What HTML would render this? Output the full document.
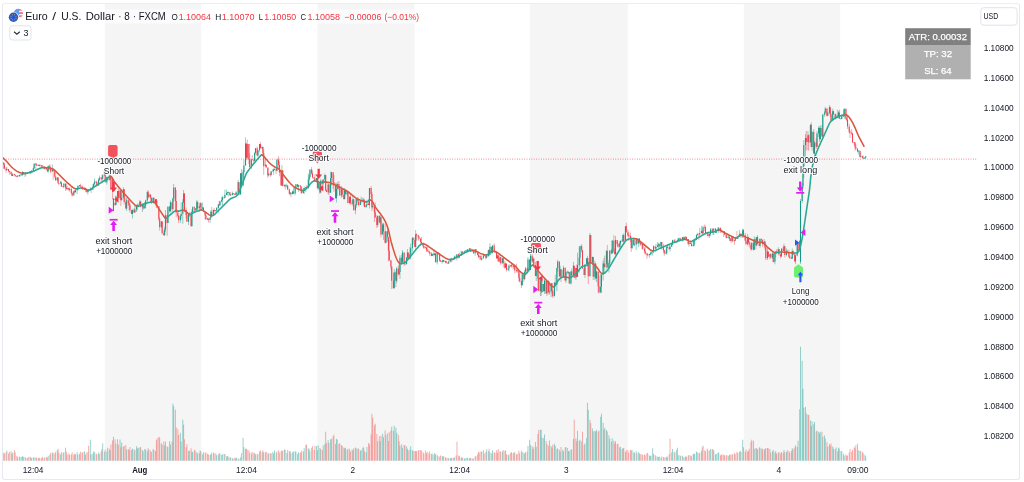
<!DOCTYPE html>
<html lang="en"><head><meta charset="utf-8"><title>Euro / U.S. Dollar chart</title>
<style>
html,body{margin:0;padding:0;background:#fff}
body{width:1024px;height:482px;position:relative;overflow:hidden;font-family:'Liberation Sans',sans-serif}
.frame{position:absolute;left:2px;top:3px;width:1016px;height:475px;border:1px solid #e6e9ef;border-top-color:#eceef3;border-radius:3px;box-sizing:content-box}
svg{display:block}
</style></head><body>
<svg width="1024" height="482" viewBox="0 0 1024 482" style="position:absolute;left:0;top:0">
<rect x="104.8" y="4" width="96.4" height="456.7" fill="#f5f5f5"/>
<rect x="317.5" y="4" width="96.9" height="456.7" fill="#f5f5f5"/>
<rect x="529.9" y="4" width="97.9" height="456.7" fill="#f5f5f5"/>
<rect x="743.8" y="4" width="96.4" height="456.7" fill="#f5f5f5"/>
<path d="M6.43 450.45v10.25h0.95v-10.25zM12.21 452.47v8.23h0.95v-8.23zM17.16 457.37v3.33h0.95v-3.33zM18.82 456.41v4.29h0.95v-4.29zM19.64 457.07v3.63h0.95v-3.63zM22.12 456.11v4.59h0.95v-4.59zM24.6 456.96v3.74h0.95v-3.74zM27.07 458.16v2.54h0.95v-2.54zM29.55 456.8v3.9h0.95v-3.9zM31.2 457.92v2.78h0.95v-2.78zM32.85 457.45v3.25h0.95v-3.25zM33.68 457.23v3.47h0.95v-3.47zM38.63 457.81v2.89h0.95v-2.89zM41.11 457.88v2.82h0.95v-2.82zM44.41 457.18v3.52h0.95v-3.52zM47.72 456.09v4.61h0.95v-4.61zM51.85 452.72v7.98h0.95v-7.98zM56.8 450.09v10.61h0.95v-10.61zM60.11 454.18v6.52h0.95v-6.52zM63.41 452.09v8.61h0.95v-8.61zM66.71 454.72v5.98h0.95v-5.98zM69.19 454.67v6.03h0.95v-6.03zM73.32 454.76v5.94h0.95v-5.94zM74.97 454.28v6.42h0.95v-6.42zM76.62 451.98v8.72h0.95v-8.72zM77.45 454.62v6.08h0.95v-6.08zM79.1 453.72v6.98h0.95v-6.98zM84.05 451.31v9.39h0.95v-9.39zM87.36 452.1v8.6h0.95v-8.6zM89.83 439.7v21h0.95v-21zM92.31 454.08v6.62h0.95v-6.62zM93.14 451.48v9.22h0.95v-9.22zM93.96 452.09v8.61h0.95v-8.61zM98.09 452.38v8.32h0.95v-8.32zM98.92 454.06v6.64h0.95v-6.64zM102.22 443.3v17.4h0.95v-17.4zM103.87 451.79v8.91h0.95v-8.91zM106.35 451.52v9.18h0.95v-9.18zM108.83 448.81v11.89h0.95v-11.89zM109.65 450.41v10.29h0.95v-10.29zM112.96 436.7v24h0.95v-24zM115.43 443.7v17h0.95v-17zM117.09 439.28v21.42h0.95v-21.42zM119.56 439.47v21.23h0.95v-21.23zM121.21 442.56v18.14h0.95v-18.14zM122.87 446.39v14.31h0.95v-14.31zM126.17 449.59v11.11h0.95v-11.11zM131.95 448.51v12.19h0.95v-12.19zM134.43 450.05v10.65h0.95v-10.65zM136.08 446.18v14.52h0.95v-14.52zM137.73 447.85v12.85h0.95v-12.85zM139.38 447.59v13.11h0.95v-13.11zM141.86 450.1v10.6h0.95v-10.6zM144.34 449.03v11.67h0.95v-11.67zM145.16 449.43v11.27h0.95v-11.27zM146.81 451.17v9.53h0.95v-9.53zM148.47 449.62v11.08h0.95v-11.08zM152.59 448.97v11.73h0.95v-11.73zM155.07 451.12v9.58h0.95v-9.58zM160.85 443.14v17.56h0.95v-17.56zM164.16 445.5v15.2h0.95v-15.2zM164.98 441.63v19.07h0.95v-19.07zM167.46 446.91v13.79h0.95v-13.79zM169.94 444.49v16.21h0.95v-16.21zM172.41 403.7v57h0.95v-57zM173.24 406.19v54.51h0.95v-54.51zM179.85 432.81v27.89h0.95v-27.89zM180.67 441.46v19.24h0.95v-19.24zM182.32 419.7v41h0.95v-41zM188.1 450.91v9.79h0.95v-9.79zM191.41 451.64v9.06h0.95v-9.06zM192.23 452.11v8.59h0.95v-8.59zM196.36 452.15v8.55h0.95v-8.55zM198.84 453.15v7.55h0.95v-7.55zM199.67 450.56v10.14h0.95v-10.14zM202.14 454.26v6.44h0.95v-6.44zM207.1 453.86v6.84h0.95v-6.84zM209.57 455.01v5.69h0.95v-5.69zM210.4 454.2v6.5h0.95v-6.5zM212.88 452.56v8.14h0.95v-8.14zM215.36 453.34v7.36h0.95v-7.36zM216.18 455.15v5.55h0.95v-5.55zM217.83 454.81v5.89h0.95v-5.89zM219.48 453.32v7.38h0.95v-7.38zM221.14 454.97v5.73h0.95v-5.73zM221.96 454.23v6.47h0.95v-6.47zM224.44 454.01v6.69h0.95v-6.69zM226.09 456.19v4.51h0.95v-4.51zM226.92 455.86v4.84h0.95v-4.84zM227.74 456.85v3.85h0.95v-3.85zM230.22 457.62v3.08h0.95v-3.08zM231.87 458.26v2.44h0.95v-2.44zM235.17 457.95v2.75h0.95v-2.75zM236 457.86v2.84h0.95v-2.84zM237.65 458.7v2h0.95v-2zM240.13 457.17v3.53h0.95v-3.53zM242.61 437.7v23h0.95v-23zM243.43 447.33v13.37h0.95v-13.37zM245.08 448.69v12.01h0.95v-12.01zM246.74 449.72v10.98h0.95v-10.98zM250.86 453.62v7.08h0.95v-7.08zM254.17 453.13v7.57h0.95v-7.57zM254.99 454.34v6.36h0.95v-6.36zM257.47 453.99v6.71h0.95v-6.71zM259.12 451.24v9.46h0.95v-9.46zM261.6 452.25v8.45h0.95v-8.45zM264.9 452.19v8.51h0.95v-8.51zM268.21 453.27v7.43h0.95v-7.43zM270.68 453.22v7.48h0.95v-7.48zM272.34 452.01v8.69h0.95v-8.69zM273.16 453.49v7.21h0.95v-7.21zM273.99 450.47v10.23h0.95v-10.23zM276.46 451.45v9.25h0.95v-9.25zM281.42 450.57v10.13h0.95v-10.13zM283.9 449.33v11.37h0.95v-11.37zM286.37 452.94v7.76h0.95v-7.76zM289.68 450.89v9.81h0.95v-9.81zM292.15 452.17v8.53h0.95v-8.53zM294.63 451.37v9.33h0.95v-9.33zM295.46 451.58v9.12h0.95v-9.12zM297.94 451.98v8.72h0.95v-8.72zM302.89 451.51v9.19h0.95v-9.19zM303.72 448.2v12.5h0.95v-12.5zM305.37 444.7v16h0.95v-16zM307.85 448.61v12.09h0.95v-12.09zM308.67 448.83v11.87h0.95v-11.87zM309.5 451.31v9.39h0.95v-9.39zM316.1 445.88v14.82h0.95v-14.82zM317.75 445.13v15.57h0.95v-15.57zM320.23 449.12v11.58h0.95v-11.58zM322.71 445.45v15.25h0.95v-15.25zM324.36 444v16.7h0.95v-16.7zM327.66 440.37v20.33h0.95v-20.33zM330.14 439.24v21.46h0.95v-21.46zM330.97 438.72v21.98h0.95v-21.98zM335.92 438.72v21.98h0.95v-21.98zM336.75 439.86v20.84h0.95v-20.84zM340.88 445.08v15.62h0.95v-15.62zM344.18 448.3v12.4h0.95v-12.4zM346.66 449.68v11.02h0.95v-11.02zM349.14 448.66v12.04h0.95v-12.04zM352.44 450.19v10.51h0.95v-10.51zM354.92 447.49v13.21h0.95v-13.21zM355.74 448.61v12.09h0.95v-12.09zM359.87 450.68v10.02h0.95v-10.02zM360.7 450.11v10.59h0.95v-10.59zM362.35 447.76v12.94h0.95v-12.94zM365.65 452.2v8.5h0.95v-8.5zM366.48 446.88v13.82h0.95v-13.82zM368.95 444.45v16.25h0.95v-16.25zM377.21 441.15v19.55h0.95v-19.55zM379.69 441.15v19.55h0.95v-19.55zM382.17 433.81v26.89h0.95v-26.89zM385.47 434.64v26.06h0.95v-26.06zM391.25 426.7v34h0.95v-34zM393.73 425.7v35h0.95v-35zM395.38 427.66v33.04h0.95v-33.04zM396.21 432.68v28.02h0.95v-28.02zM398.68 441.35v19.35h0.95v-19.35zM399.51 445.81v14.89h0.95v-14.89zM401.99 447.67v13.03h0.95v-13.03zM406.12 446.59v14.11h0.95v-14.11zM406.94 448.66v12.04h0.95v-12.04zM409.42 449.59v11.11h0.95v-11.11zM410.24 446.14v14.56h0.95v-14.56zM411.9 450.02v10.68h0.95v-10.68zM415.2 451.11v9.59h0.95v-9.59zM431.72 453.61v7.09h0.95v-7.09zM434.19 453.12v7.58h0.95v-7.58zM436.67 454.72v5.98h0.95v-5.98zM441.62 456.04v4.66h0.95v-4.66zM442.45 456.4v4.3h0.95v-4.3zM444.93 457.27v3.43h0.95v-3.43zM448.23 458.24v2.46h0.95v-2.46zM449.88 457.95v2.75h0.95v-2.75zM450.71 458.02v2.68h0.95v-2.68zM453.19 457.44v3.26h0.95v-3.26zM454.01 457.58v3.12h0.95v-3.12zM458.97 456.35v4.35h0.95v-4.35zM460.62 457.3v3.4h0.95v-3.4zM461.44 457.41v3.29h0.95v-3.29zM463.92 458.47v2.23h0.95v-2.23zM464.75 458.26v2.44h0.95v-2.44zM466.4 457.77v2.93h0.95v-2.93zM467.22 458.12v2.58h0.95v-2.58zM468.88 458.07v2.63h0.95v-2.63zM470.53 458.36v2.34h0.95v-2.34zM474.66 456.63v4.07h0.95v-4.07zM478.79 452.56v8.14h0.95v-8.14zM481.26 451.42v9.28h0.95v-9.28zM482.91 450.33v10.37h0.95v-10.37zM486.22 449.29v11.41h0.95v-11.41zM487.87 451.11v9.59h0.95v-9.59zM489.52 452.48v8.22h0.95v-8.22zM492 450.18v10.52h0.95v-10.52zM496.95 452.85v7.85h0.95v-7.85zM499.43 451.35v9.35h0.95v-9.35zM501.91 451.38v9.32h0.95v-9.32zM505.21 450.15v10.55h0.95v-10.55zM507.69 454.95v5.75h0.95v-5.75zM508.51 454.51v6.19h0.95v-6.19zM510.99 452.16v8.54h0.95v-8.54zM513.47 452.56v8.14h0.95v-8.14zM516.77 453.63v7.07h0.95v-7.07zM521.73 451.95v8.75h0.95v-8.75zM524.2 453.46v7.24h0.95v-7.24zM525.03 452.26v8.44h0.95v-8.44zM527.51 445.66v15.04h0.95v-15.04zM529.16 439.7v21h0.95v-21zM529.99 444.81v15.89h0.95v-15.89zM532.46 449v11.7h0.95v-11.7zM535.77 446.65v14.05h0.95v-14.05zM539.89 429.82v30.88h0.95v-30.88zM540.72 429.7v31h0.95v-31zM541.55 437.8v22.9h0.95v-22.9zM544.02 434.61v26.09h0.95v-26.09zM546.5 443.95v16.75h0.95v-16.75zM548.98 440.57v20.13h0.95v-20.13zM550.63 445.98v14.72h0.95v-14.72zM553.93 443.64v17.06h0.95v-17.06zM556.41 449.12v11.58h0.95v-11.58zM557.24 448.23v12.47h0.95v-12.47zM559.71 451.87v8.83h0.95v-8.83zM562.19 449.63v11.07h0.95v-11.07zM563.02 451.36v9.34h0.95v-9.34zM565.49 447.06v13.64h0.95v-13.64zM567.97 450.9v9.8h0.95v-9.8zM570.45 449.61v11.09h0.95v-11.09zM572.93 439.1v21.6h0.95v-21.6zM575.4 438.23v22.47h0.95v-22.47zM577.06 430.7v30h0.95v-30zM578.71 440.63v20.07h0.95v-20.07zM579.53 439.72v20.98h0.95v-20.98zM584.49 443.31v17.39h0.95v-17.39zM586.14 437.93v22.77h0.95v-22.77zM586.97 402.7v58h0.95v-58zM587.79 409.7v51h0.95v-51zM591.92 428.47v32.23h0.95v-32.23zM594.4 430.92v29.78h0.95v-29.78zM596.05 429.75v30.95h0.95v-30.95zM600.18 416.7v44h0.95v-44zM602.66 422.83v37.87h0.95v-37.87zM604.31 427.64v33.06h0.95v-33.06zM605.96 429.93v30.77h0.95v-30.77zM608.44 435.2v25.5h0.95v-25.5zM609.26 438.87v21.83h0.95v-21.83zM611.74 438.15v22.55h0.95v-22.55zM615.04 441.35v19.35h0.95v-19.35zM619.17 447.22v13.48h0.95v-13.48zM620 446.82v13.88h0.95v-13.88zM622.48 448.35v12.35h0.95v-12.35zM624.95 451.95v8.75h0.95v-8.75zM631.56 449.98v10.72h0.95v-10.72zM634.04 452.56v8.14h0.95v-8.14zM635.69 451.16v9.54h0.95v-9.54zM638.17 451.95v8.75h0.95v-8.75zM641.47 454.48v6.22h0.95v-6.22zM648.9 455.51v5.19h0.95v-5.19zM649.73 455.64v5.06h0.95v-5.06zM650.55 455.79v4.91h0.95v-4.91zM652.2 448.2v12.5h0.95v-12.5zM653.03 453.86v6.84h0.95v-6.84zM655.51 456.21v4.49h0.95v-4.49zM657.16 456.79v3.91h0.95v-3.91zM657.98 457.04v3.66h0.95v-3.66zM660.46 457.87v2.83h0.95v-2.83zM665.42 457.55v3.15h0.95v-3.15zM666.24 456.8v3.9h0.95v-3.9zM671.2 452.25v8.45h0.95v-8.45zM672.02 449.02v11.68h0.95v-11.68zM674.5 452.17v8.53h0.95v-8.53zM676.15 449.98v10.72h0.95v-10.72zM676.98 447.7v13h0.95v-13zM677.8 455.29v5.41h0.95v-5.41zM680.28 455.95v4.75h0.95v-4.75zM681.93 455.8v4.9h0.95v-4.9zM684.41 457.23v3.47h0.95v-3.47zM688.54 455v5.7h0.95v-5.7zM692.67 454.08v6.62h0.95v-6.62zM693.49 453.6v7.1h0.95v-7.1zM694.32 454.14v6.56h0.95v-6.56zM695.97 451.43v9.27h0.95v-9.27zM696.8 452.16v8.54h0.95v-8.54zM699.27 452.73v7.97h0.95v-7.97zM700.93 450.78v9.92h0.95v-9.92zM702.58 445.7v15h0.95v-15zM709.18 450.48v10.22h0.95v-10.22zM710.01 449.06v11.64h0.95v-11.64zM712.49 449.25v11.45h0.95v-11.45zM713.31 450.49v10.21h0.95v-10.21zM715.79 454.02v6.68h0.95v-6.68zM717.44 452.97v7.73h0.95v-7.73zM718.27 452.36v8.34h0.95v-8.34zM723.22 454.72v5.98h0.95v-5.98zM728.18 455.73v4.97h0.95v-4.97zM731.48 454.16v6.54h0.95v-6.54zM734.78 454.2v6.5h0.95v-6.5zM737.26 453.03v7.67h0.95v-7.67zM738.91 451.63v9.07h0.95v-9.07zM739.74 450.71v9.99h0.95v-9.99zM742.22 439.7v21h0.95v-21zM747.17 451.62v9.08h0.95v-9.08zM752.95 440.7v20h0.95v-20zM753.78 448.63v12.07h0.95v-12.07zM756.25 448.61v12.09h0.95v-12.09zM759.56 447.79v12.91h0.95v-12.91zM763.69 449.15v11.55h0.95v-11.55zM766.99 448.06v12.64h0.95v-12.64zM769.47 448.98v11.72h0.95v-11.72zM771.94 451.3v9.4h0.95v-9.4zM774.42 452.38v8.32h0.95v-8.32zM775.25 451.15v9.55h0.95v-9.55zM777.73 452.84v7.86h0.95v-7.86zM781.03 451.92v8.78h0.95v-8.78zM783.51 450.08v10.62h0.95v-10.62zM785.98 452.1v8.6h0.95v-8.6zM791.76 448.35v12.35h0.95v-12.35zM795.07 445.15v15.55h0.95v-15.55zM796.72 447.04v13.66h0.95v-13.66zM797.54 440.7v20h0.95v-20zM799.2 409.18v51.52h0.95v-51.52zM800.02 346.7v114h0.95v-114zM801.67 360.7v100h0.95v-100zM802.5 388.7v72h0.95v-72zM803.33 407.7v53h0.95v-53zM804.98 406.89v53.81h0.95v-53.81zM805.8 413.54v47.16h0.95v-47.16zM809.93 420.43v40.27h0.95v-40.27zM811.58 421.2v39.5h0.95v-39.5zM814.06 422.12v38.58h0.95v-38.58zM816.54 430.73v29.97h0.95v-29.97zM818.19 431.86v28.84h0.95v-28.84zM819.84 431.82v28.88h0.95v-28.88zM822.32 436.83v23.87h0.95v-23.87zM823.97 435.4v25.3h0.95v-25.3zM824.8 438.48v22.22h0.95v-22.22zM827.27 446.7v14h0.95v-14zM828.92 443.97v16.73h0.95v-16.73zM832.23 446.6v14.1h0.95v-14.1zM835.53 447.43v13.27h0.95v-13.27zM838.01 447.78v12.92h0.95v-12.92zM840.49 451.02v9.68h0.95v-9.68zM841.31 451.23v9.47h0.95v-9.47zM843.79 455.38v5.32h0.95v-5.32zM857.83 450.35v10.35h0.95v-10.35zM860.31 450.91v9.79h0.95v-9.79zM864.43 454.71v5.99h0.95v-5.99zM865.26 456.37v4.33h0.95v-4.33z" fill="#26a69a" fill-opacity="0.5"/>
<path d="M3.12 452.68v8.02h0.95v-8.02zM3.95 453.29v7.41h0.95v-7.41zM5.6 452.34v8.36h0.95v-8.36zM8.08 453.61v7.09h0.95v-7.09zM8.91 451.67v9.03h0.95v-9.03zM10.56 451.17v9.53h0.95v-9.53zM11.38 453.49v7.21h0.95v-7.21zM13.86 449.89v10.81h0.95v-10.81zM14.69 452.24v8.46h0.95v-8.46zM16.34 456.01v4.69h0.95v-4.69zM21.29 457.05v3.65h0.95v-3.65zM22.94 456.89v3.81h0.95v-3.81zM25.42 457.67v3.03h0.95v-3.03zM27.9 456.93v3.77h0.95v-3.77zM30.38 457.5v3.2h0.95v-3.2zM35.33 457.54v3.16h0.95v-3.16zM36.16 457.73v2.97h0.95v-2.97zM37.81 457.89v2.81h0.95v-2.81zM39.46 458.18v2.52h0.95v-2.52zM41.94 456.85v3.85h0.95v-3.85zM43.59 458.24v2.46h0.95v-2.46zM46.07 457.09v3.61h0.95v-3.61zM46.89 457.66v3.04h0.95v-3.04zM49.37 454.74v5.96h0.95v-5.96zM50.2 452.86v7.84h0.95v-7.84zM52.67 452.63v8.07h0.95v-8.07zM54.32 453.45v7.25h0.95v-7.25zM55.15 451.84v8.86h0.95v-8.86zM57.63 448.7v12h0.95v-12zM58.45 452.81v7.89h0.95v-7.89zM60.93 451.93v8.77h0.95v-8.77zM62.58 452.93v7.77h0.95v-7.77zM65.06 447.7v13h0.95v-13zM65.89 451.8v8.9h0.95v-8.9zM68.36 453.27v7.43h0.95v-7.43zM70.84 454.38v6.32h0.95v-6.32zM71.67 452.39v8.31h0.95v-8.31zM74.14 453.65v7.05h0.95v-7.05zM79.92 451.87v8.83h0.95v-8.83zM81.58 452.44v8.26h0.95v-8.26zM82.4 452.36v8.34h0.95v-8.34zM84.88 454.71v5.99h0.95v-5.99zM85.7 452.41v8.29h0.95v-8.29zM88.18 445.65v15.05h0.95v-15.05zM90.66 454.13v6.57h0.95v-6.57zM95.61 453.41v7.29h0.95v-7.29zM96.44 454.36v6.34h0.95v-6.34zM100.57 451.57v9.13h0.95v-9.13zM101.4 448.92v11.78h0.95v-11.78zM104.7 449.62v11.08h0.95v-11.08zM107.18 447.81v12.89h0.95v-12.89zM110.48 444.43v16.27h0.95v-16.27zM112.13 440.58v20.12h0.95v-20.12zM114.61 439.3v21.4h0.95v-21.4zM117.91 444.78v15.92h0.95v-15.92zM120.39 447.2v13.5h0.95v-13.5zM123.69 445.94v14.76h0.95v-14.76zM125.34 445.07v15.63h0.95v-15.63zM127.82 449v11.7h0.95v-11.7zM128.65 450.27v10.43h0.95v-10.43zM129.47 447.07v13.63h0.95v-13.63zM131.12 450.04v10.66h0.95v-10.66zM133.6 449.5v11.2h0.95v-11.2zM136.9 448.61v12.09h0.95v-12.09zM140.21 446.99v13.71h0.95v-13.71zM142.69 451.14v9.56h0.95v-9.56zM147.64 448.21v12.49h0.95v-12.49zM150.12 450.65v10.05h0.95v-10.05zM150.94 451.99v8.71h0.95v-8.71zM153.42 450.08v10.62h0.95v-10.62zM155.9 440.33v20.37h0.95v-20.37zM156.72 438.28v22.42h0.95v-22.42zM158.38 436.76v23.94h0.95v-23.94zM159.2 437.7v23h0.95v-23zM161.68 444.74v15.96h0.95v-15.96zM163.33 441.6v19.1h0.95v-19.1zM166.63 446.35v14.35h0.95v-14.35zM169.11 441.32v19.38h0.95v-19.38zM171.59 441.8v18.9h0.95v-18.9zM174.89 409.7v51h0.95v-51zM175.72 427.47v33.23h0.95v-33.23zM177.37 429.23v31.47h0.95v-31.47zM178.19 435.1v25.6h0.95v-25.6zM183.15 424.7v36h0.95v-36zM183.98 439.26v21.44h0.95v-21.44zM185.63 447.34v13.36h0.95v-13.36zM186.45 444.31v16.39h0.95v-16.39zM188.93 450.62v10.08h0.95v-10.08zM190.58 448.27v12.43h0.95v-12.43zM193.88 449.68v11.02h0.95v-11.02zM194.71 450.71v9.99h0.95v-9.99zM197.19 453.54v7.16h0.95v-7.16zM200.49 451.45v9.25h0.95v-9.25zM202.97 452.03v8.67h0.95v-8.67zM204.62 453.35v7.35h0.95v-7.35zM205.45 452.25v8.45h0.95v-8.45zM207.92 454.53v6.17h0.95v-6.17zM211.23 452.49v8.21h0.95v-8.21zM213.7 453.38v7.32h0.95v-7.32zM218.66 453.39v7.31h0.95v-7.31zM223.61 453.98v6.72h0.95v-6.72zM229.39 457.16v3.54h0.95v-3.54zM232.7 458.64v2.06h0.95v-2.06zM234.35 457.8v2.9h0.95v-2.9zM238.48 458.66v2.04h0.95v-2.04zM240.96 453.08v7.62h0.95v-7.62zM245.91 448.75v11.95h0.95v-11.95zM248.39 450.15v10.55h0.95v-10.55zM249.21 452.62v8.08h0.95v-8.08zM251.69 451.95v8.75h0.95v-8.75zM253.34 452.78v7.92h0.95v-7.92zM256.65 454.25v6.45h0.95v-6.45zM259.95 450.5v10.2h0.95v-10.2zM262.43 450.15v10.55h0.95v-10.55zM263.25 452.33v8.37h0.95v-8.37zM265.73 451.85v8.85h0.95v-8.85zM267.38 453.33v7.37h0.95v-7.37zM269.86 453.38v7.32h0.95v-7.32zM275.64 452.82v7.88h0.95v-7.88zM278.12 450.36v10.34h0.95v-10.34zM278.94 452.44v8.26h0.95v-8.26zM280.59 451.17v9.53h0.95v-9.53zM282.25 450.74v9.96h0.95v-9.96zM284.72 449.93v10.77h0.95v-10.77zM287.2 449.97v10.73h0.95v-10.73zM288.85 451.3v9.4h0.95v-9.4zM290.5 453.24v7.46h0.95v-7.46zM292.98 451.5v9.2h0.95v-9.2zM297.11 453.94v6.76h0.95v-6.76zM299.59 453.12v7.58h0.95v-7.58zM300.41 452.2v8.5h0.95v-8.5zM301.24 450.53v10.17h0.95v-10.17zM306.19 444.86v15.84h0.95v-15.84zM311.15 447.71v12.99h0.95v-12.99zM311.97 446.37v14.33h0.95v-14.33zM313.63 450.01v10.69h0.95v-10.69zM314.45 445.99v14.71h0.95v-14.71zM316.93 450.22v10.48h0.95v-10.48zM319.41 448.03v12.67h0.95v-12.67zM321.88 450.34v10.36h0.95v-10.36zM325.19 431.7v29h0.95v-29zM326.01 443.09v17.61h0.95v-17.61zM328.49 442.93v17.77h0.95v-17.77zM332.62 436.41v24.29h0.95v-24.29zM333.44 434.7v26h0.95v-26zM335.1 443.94v16.76h0.95v-16.76zM338.4 443.63v17.07h0.95v-17.07zM339.23 443.19v17.51h0.95v-17.51zM341.7 446.08v14.62h0.95v-14.62zM343.35 447.59v13.11h0.95v-13.11zM345.01 447.79v12.91h0.95v-12.91zM347.48 448.79v11.91h0.95v-11.91zM349.96 451.45v9.25h0.95v-9.25zM351.61 449.54v11.16h0.95v-11.16zM353.26 448.37v12.33h0.95v-12.33zM357.39 448.42v12.28h0.95v-12.28zM358.22 448.75v11.95h0.95v-11.95zM363.17 447.31v13.39h0.95v-13.39zM364 451.29v9.41h0.95v-9.41zM368.13 443.02v17.68h0.95v-17.68zM370.61 434.56v26.14h0.95v-26.14zM371.43 413.7v47h0.95v-47zM372.26 417.7v43h0.95v-43zM373.91 425.35v35.35h0.95v-35.35zM374.74 423.7v37h0.95v-37zM376.39 433.94v26.76h0.95v-26.76zM378.86 436.36v24.34h0.95v-24.34zM380.52 435.72v24.98h0.95v-24.98zM382.99 437.17v23.53h0.95v-23.53zM384.64 430.57v30.13h0.95v-30.13zM387.12 433.22v27.48h0.95v-27.48zM387.95 441.07v19.63h0.95v-19.63zM388.77 432.18v28.52h0.95v-28.52zM390.43 430.59v30.11h0.95v-30.11zM392.9 430.95v29.75h0.95v-29.75zM397.86 434.83v25.87h0.95v-25.87zM401.16 444.19v16.51h0.95v-16.51zM403.64 445.11v15.59h0.95v-15.59zM404.46 445.27v15.43h0.95v-15.43zM407.77 450.51v10.19h0.95v-10.19zM412.72 451.05v9.65h0.95v-9.65zM414.37 450.88v9.82h0.95v-9.82zM416.02 451.3v9.4h0.95v-9.4zM417.68 450.17v10.53h0.95v-10.53zM418.5 450.36v10.34h0.95v-10.34zM420.15 449.98v10.72h0.95v-10.72zM420.98 450.42v10.28h0.95v-10.28zM422.63 452.24v8.46h0.95v-8.46zM423.46 453.54v7.16h0.95v-7.16zM425.11 450.41v10.29h0.95v-10.29zM425.93 453.33v7.37h0.95v-7.37zM426.76 451.88v8.82h0.95v-8.82zM428.41 453.33v7.37h0.95v-7.37zM429.24 451.31v9.39h0.95v-9.39zM430.89 453.98v6.72h0.95v-6.72zM433.37 454.67v6.03h0.95v-6.03zM435.02 454.3v6.4h0.95v-6.4zM437.5 455.94v4.76h0.95v-4.76zM439.15 456.64v4.06h0.95v-4.06zM439.97 455.55v5.15h0.95v-5.15zM443.28 456.26v4.44h0.95v-4.44zM445.75 458.08v2.62h0.95v-2.62zM447.41 457.75v2.95h0.95v-2.95zM451.53 457.89v2.81h0.95v-2.81zM455.66 455.55v5.15h0.95v-5.15zM456.49 441.7v19h0.95v-19zM458.14 455.57v5.13h0.95v-5.13zM462.27 457.98v2.72h0.95v-2.72zM469.7 458.09v2.61h0.95v-2.61zM472.18 458.48v2.22h0.95v-2.22zM473.01 458.54v2.16h0.95v-2.16zM475.48 456v4.7h0.95v-4.7zM477.13 454.37v6.33h0.95v-6.33zM477.96 451.82v8.88h0.95v-8.88zM480.44 451.57v9.13h0.95v-9.13zM483.74 453.61v7.09h0.95v-7.09zM485.39 452.03v8.67h0.95v-8.67zM488.7 448.67v12.03h0.95v-12.03zM491.17 453.32v7.38h0.95v-7.38zM493.65 452.51v8.19h0.95v-8.19zM494.48 452.46v8.24h0.95v-8.24zM496.13 450.36v10.34h0.95v-10.34zM497.78 449.25v11.45h0.95v-11.45zM500.26 451.67v9.03h0.95v-9.03zM502.73 449.93v10.77h0.95v-10.77zM504.39 451.03v9.67h0.95v-9.67zM506.04 454.29v6.41h0.95v-6.41zM510.17 452.87v7.83h0.95v-7.83zM512.64 453.13v7.57h0.95v-7.57zM514.3 452.36v8.34h0.95v-8.34zM515.95 454.54v6.16h0.95v-6.16zM518.42 450.75v9.95h0.95v-9.95zM519.25 453.16v7.54h0.95v-7.54zM520.9 450.48v10.22h0.95v-10.22zM523.38 452.77v7.93h0.95v-7.93zM526.68 451.45v9.25h0.95v-9.25zM531.64 446.18v14.52h0.95v-14.52zM533.29 447.2v13.5h0.95v-13.5zM534.94 442.08v18.62h0.95v-18.62zM537.42 434.11v26.59h0.95v-26.59zM538.24 429.7v31h0.95v-31zM543.2 438.05v22.65h0.95v-22.65zM545.68 440.99v19.71h0.95v-19.71zM548.15 445.82v14.88h0.95v-14.88zM551.46 447.8v12.9h0.95v-12.9zM552.28 444.84v15.86h0.95v-15.86zM554.76 445.79v14.91h0.95v-14.91zM558.89 449.87v10.83h0.95v-10.83zM560.54 446.94v13.76h0.95v-13.76zM564.67 447.52v13.18h0.95v-13.18zM567.15 447.98v12.72h0.95v-12.72zM568.8 451.26v9.44h0.95v-9.44zM571.28 449.31v11.39h0.95v-11.39zM573.75 419.7v41h0.95v-41zM576.23 441.29v19.41h0.95v-19.41zM581.18 441.6v19.1h0.95v-19.1zM582.01 431.7v29h0.95v-29zM583.66 445.04v15.66h0.95v-15.66zM589.44 419.7v41h0.95v-41zM590.27 423.07v37.63h0.95v-37.63zM592.75 431.19v29.51h0.95v-29.51zM595.22 431.41v29.29h0.95v-29.29zM597.7 431.48v29.22h0.95v-29.22zM598.53 430.4v30.3h0.95v-30.3zM601 413.7v47h0.95v-47zM603.48 429.43v31.27h0.95v-31.27zM606.78 431.38v29.32h0.95v-29.32zM610.91 441.85v18.85h0.95v-18.85zM613.39 440.66v20.04h0.95v-20.04zM614.22 443.58v17.12h0.95v-17.12zM616.69 444.12v16.58h0.95v-16.58zM617.52 443.74v16.96h0.95v-16.96zM621.65 448.94v11.76h0.95v-11.76zM623.3 447.93v12.77h0.95v-12.77zM625.78 450.26v10.44h0.95v-10.44zM627.43 449.93v10.77h0.95v-10.77zM628.26 452.79v7.91h0.95v-7.91zM629.91 449.82v10.88h0.95v-10.88zM630.73 450.52v10.18h0.95v-10.18zM633.21 452.62v8.08h0.95v-8.08zM636.51 453.22v7.48h0.95v-7.48zM638.99 453.6v7.1h0.95v-7.1zM639.82 454.08v6.62h0.95v-6.62zM642.29 454.87v5.83h0.95v-5.83zM643.95 454.4v6.3h0.95v-6.3zM644.77 455.32v5.38h0.95v-5.38zM646.42 453.37v7.33h0.95v-7.33zM647.25 452.94v7.76h0.95v-7.76zM654.68 454.93v5.77h0.95v-5.77zM658.81 456.61v4.09h0.95v-4.09zM661.29 456.45v4.25h0.95v-4.25zM662.94 456.95v3.75h0.95v-3.75zM663.76 457.5v3.2h0.95v-3.2zM667.07 456.84v3.86h0.95v-3.86zM668.72 454.09v6.61h0.95v-6.61zM669.55 438.7v22h0.95v-22zM673.67 452.02v8.68h0.95v-8.68zM679.46 455.17v5.53h0.95v-5.53zM682.76 457.2v3.5h0.95v-3.5zM685.24 456.22v4.48h0.95v-4.48zM686.06 456.77v3.93h0.95v-3.93zM687.71 455.56v5.14h0.95v-5.14zM690.19 455.46v5.24h0.95v-5.24zM691.02 456.32v4.38h0.95v-4.38zM698.45 453.31v7.39h0.95v-7.39zM701.75 447.28v13.42h0.95v-13.42zM704.23 450.31v10.39h0.95v-10.39zM705.05 451.26v9.44h0.95v-9.44zM706.71 448.59v12.11h0.95v-12.11zM707.53 450.29v10.41h0.95v-10.41zM711.66 449.03v11.67h0.95v-11.67zM714.96 454.14v6.56h0.95v-6.56zM719.92 455.56v5.14h0.95v-5.14zM720.75 454.33v6.37h0.95v-6.37zM721.57 454.71v5.99h0.95v-5.99zM724.05 455.16v5.54h0.95v-5.54zM725.7 455.19v5.51h0.95v-5.51zM726.53 455.32v5.38h0.95v-5.38zM729 454.51v6.19h0.95v-6.19zM729.83 454.85v5.85h0.95v-5.85zM732.31 454.37v6.33h0.95v-6.33zM733.96 452.86v7.84h0.95v-7.84zM736.44 451.8v8.9h0.95v-8.9zM740.56 452.07v8.63h0.95v-8.63zM743.04 447.28v13.42h0.95v-13.42zM744.69 451.69v9.01h0.95v-9.01zM745.52 449.46v11.24h0.95v-11.24zM748 450.87v9.83h0.95v-9.83zM748.82 448.71v11.99h0.95v-11.99zM750.47 441.63v19.07h0.95v-19.07zM751.3 439.7v21h0.95v-21zM755.43 447.95v12.75h0.95v-12.75zM757.08 449.17v11.53h0.95v-11.53zM758.73 447.22v13.48h0.95v-13.48zM761.21 448.81v11.89h0.95v-11.89zM762.04 448.72v11.98h0.95v-11.98zM764.51 448.9v11.8h0.95v-11.8zM765.34 447.89v12.81h0.95v-12.81zM767.82 448.16v12.54h0.95v-12.54zM770.29 452.66v8.04h0.95v-8.04zM772.77 450.07v10.63h0.95v-10.63zM776.07 453.47v7.23h0.95v-7.23zM778.55 452.02v8.68h0.95v-8.68zM780.2 453.41v7.29h0.95v-7.29zM782.68 452.73v7.97h0.95v-7.97zM784.33 452.36v8.34h0.95v-8.34zM786.81 450.33v10.37h0.95v-10.37zM788.46 450.93v9.77h0.95v-9.77zM789.29 452.63v8.07h0.95v-8.07zM790.94 451.26v9.44h0.95v-9.44zM792.59 449.19v11.51h0.95v-11.51zM794.24 447.45v13.25h0.95v-13.25zM807.45 414.4v46.3h0.95v-46.3zM808.28 415.07v45.63h0.95v-45.63zM810.76 426.11v34.59h0.95v-34.59zM813.23 424.16v36.54h0.95v-36.54zM815.71 431.17v29.53h0.95v-29.53zM819.02 433.15v27.55h0.95v-27.55zM821.49 431.81v28.89h0.95v-28.89zM826.45 442.3v18.4h0.95v-18.4zM829.75 445.91v14.79h0.95v-14.79zM830.58 443.41v17.29h0.95v-17.29zM833.05 448.65v12.05h0.95v-12.05zM834.71 449.26v11.44h0.95v-11.44zM837.18 451.31v9.39h0.95v-9.39zM838.83 448.83v11.87h0.95v-11.87zM842.96 453.76v6.94h0.95v-6.94zM845.44 454.57v6.13h0.95v-6.13zM846.27 455.65v5.05h0.95v-5.05zM847.09 455.54v5.16h0.95v-5.16zM848.74 452.53v8.17h0.95v-8.17zM849.57 449.08v11.62h0.95v-11.62zM851.22 451.67v9.03h0.95v-9.03zM852.05 449.88v10.82h0.95v-10.82zM853.7 447.37v13.33h0.95v-13.33zM854.52 448.13v12.57h0.95v-12.57zM855.35 445.15v15.55h0.95v-15.55zM857 443.7v17h0.95v-17zM859.48 450.69v10.01h0.95v-10.01zM861.96 451.88v8.82h0.95v-8.82zM862.78 453.32v7.38h0.95v-7.38z" fill="#ef5350" fill-opacity="0.5"/>
<path d="M3.4 159.1H977.5" stroke="#f23645" stroke-opacity="0.8" stroke-width="0.95" stroke-dasharray="0.75 1.65" fill="none"/>
<path d="M6.45 166.7v3.48h0.9v-3.48zM12.23 172.7v3.6h0.9v-3.6zM17.19 175v1.5h0.9v-1.5zM18.84 174.95v1.69h0.9v-1.69zM19.67 174.6v2.2h0.9v-2.2zM22.14 171v4.54h0.9v-4.54zM24.62 172.35v4.65h0.9v-4.65zM27.1 172.04v1.07h0.9v-1.07zM29.58 171.1v2.48h0.9v-2.48zM31.23 170.03v3.17h0.9v-3.17zM32.88 167.58v3.94h0.9v-3.94zM33.7 163.25v5.82h0.9v-5.82zM38.66 164.72v1.14h0.9v-1.14zM41.14 165.32v2.98h0.9v-2.98zM44.44 167.68v1.72h0.9v-1.72zM47.74 165.66v7.05h0.9v-7.05zM51.87 164.5v6.91h0.9v-6.91zM56.83 177.24v3.46h0.9v-3.46zM60.13 180.7v2.9h0.9v-2.9zM63.43 182.67v5.69h0.9v-5.69zM66.74 186.1v4.02h0.9v-4.02zM69.21 187.75v3.75h0.9v-3.75zM73.34 190.72v4.8h0.9v-4.8zM74.99 188.8v3.64h0.9v-3.64zM76.65 188.07v6.13h0.9v-6.13zM77.47 185.38v5.12h0.9v-5.12zM79.12 185.12v1.43h0.9v-1.43zM84.08 186.7v2.84h0.9v-2.84zM87.38 189.17v5.63h0.9v-5.63zM89.86 187.2v3.5h0.9v-3.5zM92.34 184.5v5.25h0.9v-5.25zM93.16 183.43v4.02h0.9v-4.02zM93.99 178.6v6.68h0.9v-6.68zM98.12 178.58v6.95h0.9v-6.95zM98.94 175.4v5.27h0.9v-5.27zM102.25 174.47v6.83h0.9v-6.83zM103.9 168.9v7.25h0.9v-7.25zM106.37 176.54v7.96h0.9v-7.96zM108.85 174.3v6.33h0.9v-6.33zM109.68 174v5.71h0.9v-5.71zM112.98 198.3v13.1h0.9v-13.1zM115.46 195.49v9.51h0.9v-9.51zM117.11 190.91v6.25h0.9v-6.25zM119.59 190.34v9.66h0.9v-9.66zM121.24 192.1v8.24h0.9v-8.24zM122.89 187.3v10.87h0.9v-10.87zM126.19 197.84v13.16h0.9v-13.16zM131.97 209.81v8.69h0.9v-8.69zM134.45 205v7.45h0.9v-7.45zM136.1 204.45v7.55h0.9v-7.55zM137.76 203.43v3.77h0.9v-3.77zM139.41 200v5.19h0.9v-5.19zM141.88 203.44v8.56h0.9v-8.56zM144.36 202v6.43h0.9v-6.43zM145.19 199.81v8.19h0.9v-8.19zM146.84 191.7v10.9h0.9v-10.9zM148.49 194v4.1h0.9v-4.1zM152.62 197.4v5.63h0.9v-5.63zM155.1 199.09v4.91h0.9v-4.91zM160.88 221v6.24h0.9v-6.24zM164.18 226.66v9.34h0.9v-9.34zM165.01 210v21.78h0.9v-21.78zM167.48 206.2v16.87h0.9v-16.87zM169.96 200.6v11.78h0.9v-11.78zM172.44 198.11v12.39h0.9v-12.39zM173.26 184v17.78h0.9v-17.78zM179.87 214.86v8.07h0.9v-8.07zM180.7 202.6v16.74h0.9v-16.74zM182.35 199.15v24.65h0.9v-24.65zM183.17 190v13.11h0.9v-13.11zM188.13 213.5v11.5h0.9v-11.5zM191.43 209.58v16.57h0.9v-16.57zM192.26 206.21v6.99h0.9v-6.99zM196.39 200v11.62h0.9v-11.62zM198.86 206.3v5.6h0.9v-5.6zM199.69 202.8v4.08h0.9v-4.08zM202.17 202.6v6.85h0.9v-6.85zM207.12 217.8v2.16h0.9v-2.16zM209.6 217.37v5.63h0.9v-5.63zM210.43 210.3v7.9h0.9v-7.9zM212.9 209.44v6.36h0.9v-6.36zM215.38 210.11v1.14h0.9v-1.14zM216.21 207v4.54h0.9v-4.54zM217.86 204.28v8.52h0.9v-8.52zM219.51 200.47v5.49h0.9v-5.49zM221.16 197v5.47h0.9v-5.47zM221.99 195.77v9.23h0.9v-9.23zM224.46 189.5v8.37h0.9v-8.37zM226.12 189.5v5.74h0.9v-5.74zM226.94 191.66v3.34h0.9v-3.34zM227.77 192.07v4.23h0.9v-4.23zM230.25 193.97v1.78h0.9v-1.78zM231.9 191.4v3.73h0.9v-3.73zM235.2 191.4v3.48h0.9v-3.48zM236.03 191.42v3.97h0.9v-3.97zM237.68 179.7v14.46h0.9v-14.46zM240.15 173.17v21.36h0.9v-21.36zM242.63 169.88v16.62h0.9v-16.62zM243.46 159.8v15h0.9v-15zM245.11 137.4v28.05h0.9v-28.05zM246.76 139.7v20.61h0.9v-20.61zM250.89 159.53v9.47h0.9v-9.47zM254.19 152.45v8.96h0.9v-8.96zM255.02 148.14v6.28h0.9v-6.28zM257.5 150.12v7.18h0.9v-7.18zM259.15 144.09v8.19h0.9v-8.19zM261.63 145.6v3.35h0.9v-3.35zM264.93 157.3v8.91h0.9v-8.91zM268.23 173.28v2.91h0.9v-2.91zM270.71 170.94v4.93h0.9v-4.93zM272.36 169v2.47h0.9v-2.47zM273.19 168.17v6.63h0.9v-6.63zM274.01 168.32v1.56h0.9v-1.56zM276.49 159.59v11.6h0.9v-11.6zM281.44 165v20.67h0.9v-20.67zM283.92 184.44v2.09h0.9v-2.09zM286.4 183.6v4h0.9v-4zM289.7 192.12v3.18h0.9v-3.18zM292.18 190.4v4.35h0.9v-4.35zM294.66 186.7v8.6h0.9v-8.6zM295.48 184v4.45h0.9v-4.45zM297.96 184.86v7.14h0.9v-7.14zM302.92 188v5.56h0.9v-5.56zM303.74 186.61v7.39h0.9v-7.39zM305.39 186.86v5.14h0.9v-5.14zM307.87 173.4v14.97h0.9v-14.97zM308.7 174.84v12.16h0.9v-12.16zM309.52 169.45v8.92h0.9v-8.92zM316.13 177.64v5.22h0.9v-5.22zM317.78 179.08v10.92h0.9v-10.92zM320.26 179v13.52h0.9v-13.52zM322.73 179.17v5.83h0.9v-5.83zM324.39 173.4v7.28h0.9v-7.28zM327.69 183.01v11.35h0.9v-11.35zM330.17 171.4v21.29h0.9v-21.29zM330.99 171.98v13.51h0.9v-13.51zM335.95 183.39v19.21h0.9v-19.21zM336.77 181.68v14.32h0.9v-14.32zM340.9 186v11.87h0.9v-11.87zM344.21 188v11.51h0.9v-11.51zM346.68 190.75v4.9h0.9v-4.9zM349.16 196.87v7.26h0.9v-7.26zM352.46 196v10.06h0.9v-10.06zM354.94 204.36v9.94h0.9v-9.94zM355.77 198.48v9.26h0.9v-9.26zM359.9 201v3.93h0.9v-3.93zM360.72 196.8v6.37h0.9v-6.37zM362.37 197.8v4.6h0.9v-4.6zM365.68 204.61v3.46h0.9v-3.46zM366.5 199.7v6.67h0.9v-6.67zM368.98 188.02v20.48h0.9v-20.48zM372.28 203.72v5.03h0.9v-5.03zM377.24 215.66v11.34h0.9v-11.34zM379.71 214.88v9.52h0.9v-9.52zM382.19 222.67v11.74h0.9v-11.74zM385.5 231.21v12.05h0.9v-12.05zM393.75 269v19.18h0.9v-19.18zM396.23 267.12v15.88h0.9v-15.88zM398.71 262.08v12.89h0.9v-12.89zM399.53 255.3v23.7h0.9v-23.7zM402.01 250v13.6h0.9v-13.6zM406.14 257.27v7.09h0.9v-7.09zM406.97 248.9v9.78h0.9v-9.78zM409.44 246.9v12.25h0.9v-12.25zM410.27 243.54v14.06h0.9v-14.06zM411.92 237.02v14.78h0.9v-14.78zM415.22 230v18.9h0.9v-18.9zM431.74 253.65v2.27h0.9v-2.27zM434.22 253.08v2.34h0.9v-2.34zM436.7 252.2v12.3h0.9v-12.3zM441.65 260.72v2.78h0.9v-2.78zM442.48 259.53v2.6h0.9v-2.6zM444.95 260.97v2.53h0.9v-2.53zM448.26 260.6v2.96h0.9v-2.96zM449.91 258.6v3.26h0.9v-3.26zM450.73 257.82v4.68h0.9v-4.68zM453.21 257.6v2.44h0.9v-2.44zM454.04 255.49v4.11h0.9v-4.11zM456.51 254.23v6.37h0.9v-6.37zM458.99 252.8v4.61h0.9v-4.61zM460.64 250.8v5.04h0.9v-5.04zM461.47 251.5v3.2h0.9v-3.2zM463.95 250.9v2.4h0.9v-2.4zM464.77 250v1.52h0.9v-1.52zM466.42 249.4v2.21h0.9v-2.21zM467.25 249.08v3.72h0.9v-3.72zM468.9 248.31v1.62h0.9v-1.62zM470.55 248.3v3.56h0.9v-3.56zM474.68 248.88v6.82h0.9v-6.82zM478.81 254.53v5.27h0.9v-5.27zM481.29 258.18v2.62h0.9v-2.62zM482.94 254.94v3.76h0.9v-3.76zM486.24 255.11v3.14h0.9v-3.14zM487.89 249.67v7.33h0.9v-7.33zM489.55 243.3v11.51h0.9v-11.51zM492.02 245.46v7.98h0.9v-7.98zM496.98 254.91v4.29h0.9v-4.29zM499.46 255v7.73h0.9v-7.73zM501.93 257.97v5.2h0.9v-5.2zM505.24 262.75v5.06h0.9v-5.06zM507.71 268.4v2.27h0.9v-2.27zM508.54 264.26v7.24h0.9v-7.24zM511.02 262.8v4.65h0.9v-4.65zM513.49 265.57v3.16h0.9v-3.16zM516.8 269.37v3.74h0.9v-3.74zM521.75 272.5v12.72h0.9v-12.72zM524.23 269.85v9.42h0.9v-9.42zM525.06 266.93v8.47h0.9v-8.47zM527.53 256.9v15.74h0.9v-15.74zM530.01 253.01v17.08h0.9v-17.08zM532.49 256.9v5.61h0.9v-5.61zM535.79 270.51v10.49h0.9v-10.49zM539.92 277.15v18.85h0.9v-18.85zM541.57 281v11.35h0.9v-11.35zM544.05 279v14.94h0.9v-14.94zM546.53 280.5v15.5h0.9v-15.5zM549 282.08v12.53h0.9v-12.53zM550.66 283.1v13.9h0.9v-13.9zM553.96 282.1v14.03h0.9v-14.03zM556.44 267.67v23.33h0.9v-23.33zM557.26 259.8v12.02h0.9v-12.02zM559.74 265.72v13.28h0.9v-13.28zM562.22 270.1v7.71h0.9v-7.71zM563.04 265.7v12.17h0.9v-12.17zM565.52 271.47v11.53h0.9v-11.53zM568 271.86v1.9h0.9v-1.9zM570.47 271.22v13.27h0.9v-13.27zM572.95 261.7v13.81h0.9v-13.81zM575.43 268.07v11.93h0.9v-11.93zM577.08 252.68v24.17h0.9v-24.17zM578.73 247.35v25.05h0.9v-25.05zM579.56 245.84v20.66h0.9v-20.66zM584.51 264.13v13.87h0.9v-13.87zM586.16 258.28v6.78h0.9v-6.78zM589.47 233v43.3h0.9v-43.3zM591.95 256.44v8.16h0.9v-8.16zM594.42 260.7v19.57h0.9v-19.57zM596.07 270.92v11.08h0.9v-11.08zM600.2 274v19.24h0.9v-19.24zM601.03 273.16v19.84h0.9v-19.84zM602.68 260.42v20.12h0.9v-20.12zM604.33 255.42v18.58h0.9v-18.58zM605.98 250.74v17.76h0.9v-17.76zM608.46 260.37v12.03h0.9v-12.03zM609.29 250.55v14.05h0.9v-14.05zM611.76 240.42v13.6h0.9v-13.6zM615.07 236v18.16h0.9v-18.16zM619.2 241.3v9.6h0.9v-9.6zM620.02 240.82v7.18h0.9v-7.18zM622.5 234.49v7.21h0.9v-7.21zM624.98 226.16v15.24h0.9v-15.24zM631.58 239.6v9.4h0.9v-9.4zM634.06 239v7.57h0.9v-7.57zM635.71 238.17v11.83h0.9v-11.83zM638.19 238.15v8.85h0.9v-8.85zM641.49 242.71v6.29h0.9v-6.29zM648.93 254.24v3.56h0.9v-3.56zM649.75 253.3v1.98h0.9v-1.98zM650.58 249v6.28h0.9v-6.28zM652.23 250.48v5.32h0.9v-5.32zM653.05 245.25v7.64h0.9v-7.64zM655.53 244v5.51h0.9v-5.51zM657.18 242v5.53h0.9v-5.53zM658.01 242.98v5.02h0.9v-5.02zM660.49 241.55v7.45h0.9v-7.45zM665.44 249.43v4.14h0.9v-4.14zM666.27 245.16v9.64h0.9v-9.64zM669.57 245.35v6.15h0.9v-6.15zM671.22 243.35v3.69h0.9v-3.69zM672.05 239.63v5.48h0.9v-5.48zM674.53 238.9v3.63h0.9v-3.63zM676.18 241.43v1.37h0.9v-1.37zM677 239.67v2.47h0.9v-2.47zM677.83 237.67v2.98h0.9v-2.98zM680.31 237.9v3.07h0.9v-3.07zM681.96 237.03v4.37h0.9v-4.37zM684.43 236.4v4.32h0.9v-4.32zM688.56 242.02v4.68h0.9v-4.68zM692.69 239.8v6.3h0.9v-6.3zM693.52 241.01v4.69h0.9v-4.69zM694.34 238.47v5.23h0.9v-5.23zM696 234.77v5.37h0.9v-5.37zM696.82 232.75v3.24h0.9v-3.24zM699.3 228v7.7h0.9v-7.7zM700.95 226v7.13h0.9v-7.13zM702.6 225.58v9.24h0.9v-9.24zM709.21 233.13v4.77h0.9v-4.77zM710.03 228v7.38h0.9v-7.38zM712.51 228.58v6.42h0.9v-6.42zM713.34 228.6v6.4h0.9v-6.4zM715.82 230.33v2.56h0.9v-2.56zM717.47 227v4.63h0.9v-4.63zM718.29 227.6v5.4h0.9v-5.4zM723.25 231.45v5.45h0.9v-5.45zM728.2 235v3.87h0.9v-3.87zM731.51 236.8v6h0.9v-6zM734.81 236.8v4.06h0.9v-4.06zM737.29 236.12v2.58h0.9v-2.58zM738.94 230v6.97h0.9v-6.97zM739.76 233.85v3.05h0.9v-3.05zM742.24 228.5v9.41h0.9v-9.41zM747.2 234v11.82h0.9v-11.82zM751.32 242.83v7.77h0.9v-7.77zM753.8 236.23v13.79h0.9v-13.79zM756.28 236.98v8.62h0.9v-8.62zM759.58 238.3v9.35h0.9v-9.35zM763.71 238.9v6.55h0.9v-6.55zM767.01 247.6v12.52h0.9v-12.52zM769.49 253.9v5.4h0.9v-5.4zM771.97 252.5v6.42h0.9v-6.42zM774.45 252.42v11.78h0.9v-11.78zM775.27 250.83v6.57h0.9v-6.57zM777.75 247.2v7.18h0.9v-7.18zM781.05 248.15v8.39h0.9v-8.39zM783.53 243.7v8.21h0.9v-8.21zM786.01 248.6v7.56h0.9v-7.56zM791.79 248.6v10.04h0.9v-10.04zM795.09 254.53v9.67h0.9v-9.67zM796.74 240.8v15.47h0.9v-15.47zM799.22 240.02v11.48h0.9v-11.48zM800.05 199v65h0.9v-65zM801.7 183v20h0.9v-20zM802.52 160v28h0.9v-28zM803.35 140v38h0.9v-38zM805 134v26h0.9v-26zM807.48 131v19.02h0.9v-19.02zM809.96 124.84v17.55h0.9v-17.55zM811.61 131.79v18.91h0.9v-18.91zM814.09 140.98v17.52h0.9v-17.52zM816.56 131v15.66h0.9v-15.66zM818.21 126.3v10.6h0.9v-10.6zM819.87 125.3v14.01h0.9v-14.01zM822.34 114.37v24.63h0.9v-24.63zM824 111.28v5.38h0.9v-5.38zM824.82 106.8v7.72h0.9v-7.72zM827.3 112.07v3.72h0.9v-3.72zM828.95 104.9v8.7h0.9v-8.7zM832.25 108.8v12.56h0.9v-12.56zM835.56 113.59v4.92h0.9v-4.92zM838.03 111.2v6.55h0.9v-6.55zM840.51 118.26v0.9h0.9v-0.9zM841.34 115.51v3.59h0.9v-3.59zM843.81 108.48v10.32h0.9v-10.32zM857.85 150.58v4.02h0.9v-4.02zM860.33 152.6v4.55h0.9v-4.55zM864.46 156.91v2.13h0.9v-2.13zM865.29 156.07v1.51h0.9v-1.51z" fill="#149a84" fill-opacity="0.5"/>
<path d="M3.15 161.8v7h0.9v-7zM3.98 162.4v7.07h0.9v-7.07zM5.63 167.11v5.59h0.9v-5.59zM8.1 168.89v3.27h0.9v-3.27zM8.93 171.15v3.65h0.9v-3.65zM10.58 171.51v3.16h0.9v-3.16zM11.41 173.43v2.54h0.9v-2.54zM13.89 173.7v1.21h0.9v-1.21zM14.71 174.65v2.15h0.9v-2.15zM16.36 176.04v1.16h0.9v-1.16zM21.32 174.17v1.73h0.9v-1.73zM22.97 172.03v2.5h0.9v-2.5zM25.45 172.58v2.82h0.9v-2.82zM27.92 171.75v1.53h0.9v-1.53zM30.4 170.92v3.38h0.9v-3.38zM35.36 162.8v7.2h0.9v-7.2zM36.18 163.2v2.52h0.9v-2.52zM37.83 164.71v1.1h0.9v-1.1zM39.49 164.78v2.12h0.9v-2.12zM41.96 165.1v1.96h0.9v-1.96zM43.61 165.9v3.63h0.9v-3.63zM46.09 167.1v2.37h0.9v-2.37zM46.92 168.82v3.28h0.9v-3.28zM49.39 164v6.39h0.9v-6.39zM50.22 166.93v6.27h0.9v-6.27zM52.7 168.9v10.8h0.9v-10.8zM54.35 170.56v7.2h0.9v-7.2zM55.18 176.4v4.72h0.9v-4.72zM57.65 177.61v5.87h0.9v-5.87zM58.48 183.22v2.38h0.9v-2.38zM60.96 181.3v5.59h0.9v-5.59zM62.61 186.33v1.23h0.9v-1.23zM65.08 183.19v7.81h0.9v-7.81zM65.91 183.4v6.24h0.9v-6.24zM68.39 187.21v3.79h0.9v-3.79zM70.87 186.7v7.18h0.9v-7.18zM71.69 191.69v4.71h0.9v-4.71zM74.17 189.9v2.88h0.9v-2.88zM79.95 183.7v3.06h0.9v-3.06zM81.6 185.43v3.05h0.9v-3.05zM82.43 188.14v1.52h0.9v-1.52zM84.9 187.77v1.7h0.9v-1.7zM85.73 188.87v3.5h0.9v-3.5zM88.21 188.99v1.64h0.9v-1.64zM90.68 188.68v4.42h0.9v-4.42zM95.64 180.56v6.14h0.9v-6.14zM96.47 181.44v4.68h0.9v-4.68zM100.59 177.23v5.17h0.9v-5.17zM101.42 174.68v6.03h0.9v-6.03zM104.72 171.26v10.94h0.9v-10.94zM107.2 176.77v3.43h0.9v-3.43zM110.5 176.67v13.06h0.9v-13.06zM112.16 178v21.4h0.9v-21.4zM114.63 202v4h0.9v-4zM117.94 188.6v9.43h0.9v-9.43zM120.41 190.62v15.38h0.9v-15.38zM123.72 189.35v15.15h0.9v-15.15zM125.37 198.16v10.5h0.9v-10.5zM127.85 198.6v7.42h0.9v-7.42zM128.67 200.85v9.41h0.9v-9.41zM129.5 202.6v10.27h0.9v-10.27zM131.15 209.68v4.32h0.9v-4.32zM133.63 207.9v5.05h0.9v-5.05zM136.93 203.85v6.65h0.9v-6.65zM140.23 201.31v6.1h0.9v-6.1zM142.71 203v6.74h0.9v-6.74zM147.66 190v8.92h0.9v-8.92zM150.14 194.58v7.42h0.9v-7.42zM150.97 197.4v6.6h0.9v-6.6zM153.45 197.72v6.38h0.9v-6.38zM155.92 199.14v8.86h0.9v-8.86zM156.75 200.6v6.26h0.9v-6.26zM158.4 206.23v14.46h0.9v-14.46zM159.23 217.36v13.14h0.9v-13.14zM161.7 221.45v12.88h0.9v-12.88zM163.36 230.52v5.33h0.9v-5.33zM166.66 214.85v20.95h0.9v-20.95zM169.14 205.9v6.71h0.9v-6.71zM171.61 202.21v9.69h0.9v-9.69zM174.92 187.49v24.41h0.9v-24.41zM175.74 190v26.9h0.9v-26.9zM177.39 210.5v7.8h0.9v-7.8zM178.22 215.01v7.99h0.9v-7.99zM184 193.51v18.39h0.9v-18.39zM185.65 207.55v10.95h0.9v-10.95zM186.48 211.9v9.76h0.9v-9.76zM188.96 212.33v4.35h0.9v-4.35zM190.61 211.83v14.39h0.9v-14.39zM193.91 206.13v7.07h0.9v-7.07zM194.74 207.94v2.77h0.9v-2.77zM197.21 201.73v7.89h0.9v-7.89zM200.52 202.34v8.16h0.9v-8.16zM202.99 207.5v4.16h0.9v-4.16zM204.65 211.39v8.41h0.9v-8.41zM205.47 214.5v5.11h0.9v-5.11zM207.95 217.67v4.83h0.9v-4.83zM211.25 207v8.96h0.9v-8.96zM213.73 208v4.2h0.9v-4.2zM218.68 201v4.63h0.9v-4.63zM223.64 196.95v1.45h0.9v-1.45zM229.42 192.12v3.23h0.9v-3.23zM232.72 193.12v2.18h0.9v-2.18zM234.37 193.55v1.76h0.9v-1.76zM238.5 181.89v13.41h0.9v-13.41zM240.98 169v18.5h0.9v-18.5zM245.94 143.41v15.59h0.9v-15.59zM248.41 143.94v20.06h0.9v-20.06zM249.24 153.2v14.1h0.9v-14.1zM251.72 155v5.02h0.9v-5.02zM253.37 159.57v4.43h0.9v-4.43zM256.67 146.6v9h0.9v-9zM259.97 142v6.31h0.9v-6.31zM262.45 147.1v9.2h0.9v-9.2zM263.28 149.55v25.25h0.9v-25.25zM265.75 164.78v2.77h0.9v-2.77zM267.41 167.43v10.37h0.9v-10.37zM269.88 172.81v3.99h0.9v-3.99zM275.66 168.29v5.61h0.9v-5.61zM278.14 156.3v11.12h0.9v-11.12zM278.97 161.55v14.66h0.9v-14.66zM280.62 171.4v14.18h0.9v-14.18zM282.27 170.25v16.34h0.9v-16.34zM284.75 183.9v5.6h0.9v-5.6zM287.23 185.41v4.84h0.9v-4.84zM288.88 188.5v6.18h0.9v-6.18zM290.53 192.17v5.13h0.9v-5.13zM293.01 186.5v7.4h0.9v-7.4zM297.13 184.2v3.02h0.9v-3.02zM299.61 185.27v1.01h0.9v-1.01zM300.44 186.1v6.9h0.9v-6.9zM301.26 187v6.88h0.9v-6.88zM306.22 185.07v4.51h0.9v-4.51zM311.17 167v7.54h0.9v-7.54zM312 170.5v7.9h0.9v-7.9zM313.65 176.88v5.12h0.9v-5.12zM314.48 174.4v6.28h0.9v-6.28zM316.95 176.78v11.57h0.9v-11.57zM319.43 181.94v12.06h0.9v-12.06zM321.91 180v9h0.9v-9zM325.21 175.1v15.78h0.9v-15.78zM326.04 189.33v2.91h0.9v-2.91zM328.52 183.72v11.28h0.9v-11.28zM332.64 172.2v16.8h0.9v-16.8zM333.47 175v16.75h0.9v-16.75zM335.12 183v15.18h0.9v-15.18zM338.42 181v9.2h0.9v-9.2zM339.25 185.95v9.66h0.9v-9.66zM341.73 189.14v7.86h0.9v-7.86zM343.38 190.16v9.35h0.9v-9.35zM345.03 190.04v4.31h0.9v-4.31zM347.51 191.05v12.12h0.9v-12.12zM349.99 193v11.76h0.9v-11.76zM351.64 200.17v4.35h0.9v-4.35zM353.29 199.19v11.18h0.9v-11.18zM357.42 196.8v8.16h0.9v-8.16zM358.24 200.42v6.08h0.9v-6.08zM363.2 198.37v7.23h0.9v-7.23zM364.02 199.35v7.77h0.9v-7.77zM368.15 198.7v6.27h0.9v-6.27zM370.63 186v11.94h0.9v-11.94zM371.46 192v19.07h0.9v-19.07zM373.93 205.55v16.45h0.9v-16.45zM374.76 202.6v15.16h0.9v-15.16zM376.41 215v13h0.9v-13zM378.89 215.25v7.78h0.9v-7.78zM380.54 216.59v20.78h0.9v-20.78zM383.02 222.86v17.14h0.9v-17.14zM384.67 223.5v19.86h0.9v-19.86zM387.15 228.4v13.45h0.9v-13.45zM387.97 237.21v24.29h0.9v-24.29zM388.8 240v21.11h0.9v-21.11zM390.45 260.34v9.34h0.9v-9.34zM391.28 266.61v22.39h0.9v-22.39zM392.93 273v15.29h0.9v-15.29zM395.41 270.72v16.28h0.9v-16.28zM397.88 265.65v9.83h0.9v-9.83zM401.19 254.67v9.52h0.9v-9.52zM403.66 252.41v13.03h0.9v-13.03zM404.49 261.53v3.87h0.9v-3.87zM407.79 252.58v6.85h0.9v-6.85zM412.75 237.31v7.24h0.9v-7.24zM414.4 237v10h0.9v-10zM416.05 233.45v7.12h0.9v-7.12zM417.7 234.56v6.44h0.9v-6.44zM418.53 235.65v4.4h0.9v-4.4zM420.18 238.58v5.42h0.9v-5.42zM421 237v7.25h0.9v-7.25zM422.66 242.21v5.44h0.9v-5.44zM423.48 246.02v2.88h0.9v-2.88zM425.13 246.37v2.08h0.9v-2.08zM425.96 246.71v5.09h0.9v-5.09zM426.79 246v5.51h0.9v-5.51zM428.44 248.9v3.96h0.9v-3.96zM429.26 251.62v4.08h0.9v-4.08zM430.91 251.91v4.39h0.9v-4.39zM433.39 248.9v7.7h0.9v-7.7zM435.04 252.52v9.69h0.9v-9.69zM437.52 252.2v2.97h0.9v-2.97zM439.17 253.12v8.75h0.9v-8.75zM440 259.81v2.15h0.9v-2.15zM443.3 259.99v1.93h0.9v-1.93zM445.78 260.69v2.54h0.9v-2.54zM447.43 262.31v1.5h0.9v-1.5zM451.56 258.11v3.39h0.9v-3.39zM455.69 254.7v4.09h0.9v-4.09zM458.17 253.31v5.29h0.9v-5.29zM462.29 251.29v2.04h0.9v-2.04zM469.73 247.95v4.25h0.9v-4.25zM472.2 249.8v1.73h0.9v-1.73zM473.03 250.68v3.4h0.9v-3.4zM475.51 249.32v3.7h0.9v-3.7zM477.16 251.43v3.96h0.9v-3.96zM477.99 253v5.1h0.9v-5.1zM480.46 255.06v4.97h0.9v-4.97zM483.77 255v0.95h0.9v-0.95zM485.42 255.2v4.6h0.9v-4.6zM488.72 249.35v6.54h0.9v-6.54zM491.2 246.64v7.36h0.9v-7.36zM493.68 243.3v8.65h0.9v-8.65zM494.5 250v2.71h0.9v-2.71zM496.15 251.19v7.54h0.9v-7.54zM497.8 253v8.89h0.9v-8.89zM500.28 256.94v7.76h0.9v-7.76zM502.76 258.35v9.25h0.9v-9.25zM504.41 260.8v8.03h0.9v-8.03zM506.06 263.34v8.08h0.9v-8.08zM510.19 264.7v2.66h0.9v-2.66zM512.67 263.74v5.86h0.9v-5.86zM514.32 265.92v7.58h0.9v-7.58zM515.97 263.7v8.62h0.9v-8.62zM518.45 270.82v11.18h0.9v-11.18zM519.27 273.13v9.46h0.9v-9.46zM520.93 280.42v7.58h0.9v-7.58zM523.4 272.69v9.31h0.9v-9.31zM526.71 267.6v5.9h0.9v-5.9zM529.18 259.59v11.91h0.9v-11.91zM531.66 253v10.32h0.9v-10.32zM533.31 258.59v9.01h0.9v-9.01zM534.97 262.03v13.94h0.9v-13.94zM537.44 267.6v21.14h0.9v-21.14zM538.27 273.5v17.55h0.9v-17.55zM540.75 280.21v15.79h0.9v-15.79zM543.22 284.06v7.92h0.9v-7.92zM545.7 280.47v13.04h0.9v-13.04zM548.18 280.68v13.63h0.9v-13.63zM551.48 283.32v10.49h0.9v-10.49zM552.31 289.85v8.15h0.9v-8.15zM554.78 274.71v10.07h0.9v-10.07zM558.91 261.47v15.29h0.9v-15.29zM560.56 268.93v13.07h0.9v-13.07zM564.69 267.64v12.83h0.9v-12.83zM567.17 270.6v3.57h0.9v-3.57zM568.82 272.17v11.53h0.9v-11.53zM571.3 268.5v9.36h0.9v-9.36zM573.78 265.64v12.36h0.9v-12.36zM576.26 264.6v12.38h0.9v-12.38zM581.21 244v8.57h0.9v-8.57zM582.04 250.18v18.85h0.9v-18.85zM583.69 267.27v7.71h0.9v-7.71zM586.99 255.82v10.77h0.9v-10.77zM587.82 258.01v25.99h0.9v-25.99zM590.29 234.95v28.88h0.9v-28.88zM592.77 256.9v23.14h0.9v-23.14zM595.25 263.49v14.97h0.9v-14.97zM597.73 271.56v21.44h0.9v-21.44zM598.55 275.49v18.11h0.9v-18.11zM603.51 258.12v9.97h0.9v-9.97zM606.81 245v22.5h0.9v-22.5zM610.94 249v5.23h0.9v-5.23zM613.42 235v17.97h0.9v-17.97zM614.24 248.52v5.74h0.9v-5.74zM616.72 239.99v5.64h0.9v-5.64zM617.55 242.83v4.87h0.9v-4.87zM621.67 238.99v3.03h0.9v-3.03zM623.33 233.36v11.64h0.9v-11.64zM625.8 222.7v9.73h0.9v-9.73zM627.45 229.75v7.25h0.9v-7.25zM628.28 232.67v8.33h0.9v-8.33zM629.93 232.4v9.53h0.9v-9.53zM630.76 236.74v15.16h0.9v-15.16zM633.24 238v8.1h0.9v-8.1zM636.54 238.62v5.64h0.9v-5.64zM639.02 238v4.67h0.9v-4.67zM639.84 241.48v4.41h0.9v-4.41zM642.32 243.11v7h0.9v-7zM643.97 247.28v5.62h0.9v-5.62zM644.8 246v9.05h0.9v-9.05zM646.45 252.55v6.15h0.9v-6.15zM647.27 253.41v2.77h0.9v-2.77zM654.71 246.35v5.55h0.9v-5.55zM658.84 243.16v3.61h0.9v-3.61zM661.31 241.95v7.64h0.9v-7.64zM662.96 244v8.34h0.9v-8.34zM663.79 249.45v6.35h0.9v-6.35zM667.09 244v4.26h0.9v-4.26zM668.74 243.7v6.19h0.9v-6.19zM673.7 239.87v3.5h0.9v-3.5zM679.48 237.61v3.46h0.9v-3.46zM682.78 236.45v4.95h0.9v-4.95zM685.26 236.3v0.95h0.9v-0.95zM686.09 236.9v3.09h0.9v-3.09zM687.74 238.88v6.12h0.9v-6.12zM690.22 240.8v3.22h0.9v-3.22zM691.04 242.56v3.97h0.9v-3.97zM698.47 233.19v6.61h0.9v-6.61zM701.78 230v5h0.9v-5zM704.25 224.6v6.18h0.9v-6.18zM705.08 225.8v8.86h0.9v-8.86zM706.73 232.02v3.98h0.9v-3.98zM707.56 231.72v5.71h0.9v-5.71zM711.69 228v4.57h0.9v-4.57zM714.99 227.98v4.92h0.9v-4.92zM719.94 227.69v5.31h0.9v-5.31zM720.77 229v2.51h0.9v-2.51zM721.6 230.54v1.91h0.9v-1.91zM724.07 231.6v3.71h0.9v-3.71zM725.72 234.4v4.19h0.9v-4.19zM726.55 233v4.61h0.9v-4.61zM729.03 236.17v4.63h0.9v-4.63zM729.85 237.89v3.53h0.9v-3.53zM732.33 236.9v5.15h0.9v-5.15zM733.98 240.2v4.5h0.9v-4.5zM736.46 231v8.09h0.9v-8.09zM740.59 232.78v5.12h0.9v-5.12zM743.07 229v8.5h0.9v-8.5zM744.72 233.1v7.7h0.9v-7.7zM745.54 238.64v5.92h0.9v-5.92zM748.02 236.9v5.97h0.9v-5.97zM748.85 240.75v6.85h0.9v-6.85zM750.5 242.21v8.09h0.9v-8.09zM752.98 240.8v9.82h0.9v-9.82zM755.45 237.07v12.53h0.9v-12.53zM757.11 235v8.97h0.9v-8.97zM758.76 238.9v7.22h0.9v-7.22zM761.23 238.3v3.71h0.9v-3.71zM762.06 239.89v6.81h0.9v-6.81zM764.54 241.38v8.62h0.9v-8.62zM765.36 244.69v15.61h0.9v-15.61zM767.84 251.5v5.8h0.9v-5.8zM770.32 253.3v5.1h0.9v-5.1zM772.8 251.5v11.02h0.9v-11.02zM776.1 249.6v3.52h0.9v-3.52zM778.58 249.1v6.59h0.9v-6.59zM780.23 253.02v5.38h0.9v-5.38zM782.71 246.5v4.42h0.9v-4.42zM784.36 246.16v11.24h0.9v-11.24zM786.83 250.03v3.43h0.9v-3.43zM788.49 249.6v7.89h0.9v-7.89zM789.31 254.9v3.64h0.9v-3.64zM790.96 256.43v2.53h0.9v-2.53zM792.61 250.6v4.48h0.9v-4.48zM794.27 252.37v9.52h0.9v-9.52zM797.57 242.79v10.71h0.9v-10.71zM805.83 131v19.5h0.9v-19.5zM808.3 134.23v16.47h0.9v-16.47zM810.78 122.4v24.5h0.9v-24.5zM813.26 129v24.6h0.9v-24.6zM815.74 138.24v10.82h0.9v-10.82zM819.04 126.74v15.16h0.9v-15.16zM821.52 125.3v11.25h0.9v-11.25zM826.47 108.38v8.22h0.9v-8.22zM829.78 106.8v10.01h0.9v-10.01zM830.6 113.4v8h0.9v-8zM833.08 110.7v4.39h0.9v-4.39zM834.73 113.64v5.86h0.9v-5.86zM837.21 109.7v7.73h0.9v-7.73zM838.86 109.7v9.4h0.9v-9.4zM842.99 109.7v7.36h0.9v-7.36zM845.47 108.78v11.46h0.9v-11.46zM846.29 116.8v4.6h0.9v-4.6zM847.12 115.6v13.28h0.9v-13.28zM848.77 123.7v9.98h0.9v-9.98zM849.59 130.15v7.85h0.9v-7.85zM851.25 129v5.99h0.9v-5.99zM852.07 133.24v10.07h0.9v-10.07zM853.72 141.99v2.81h0.9v-2.81zM854.55 142.59v8.11h0.9v-8.11zM855.38 143.9v5.78h0.9v-5.78zM857.03 148.41v3.95h0.9v-3.95zM859.5 150.81v6.99h0.9v-6.99zM861.98 155.74v2.24h0.9v-2.24zM862.81 155.6v3.19h0.9v-3.19z" fill="#f23f4e" fill-opacity="0.5"/>
<path d="M6.38 168.89v1.29h1.05v-1.29zM12.16 174.41v1.5h1.05v-1.5zM17.11 175.76v0.9h1.05v-0.9zM18.77 175.08v0.99h1.05v-0.99zM19.59 174.44v0.9h1.05v-0.9zM22.07 172.03v2.7h1.05v-2.7zM24.55 172.6v1.59h1.05v-1.59zM27.02 172.14v0.9h1.05v-0.9zM29.5 171.3v1.7h1.05v-1.7zM31.15 170.87v1.19h1.05v-1.19zM32.8 168.13v2.74h1.05v-2.74zM33.63 163.7v4.43h1.05v-4.43zM38.58 164.86v0.9h1.05v-0.9zM41.06 165.38v0.9h1.05v-0.9zM44.37 167.79v1.06h1.05v-1.06zM47.67 165.66v5.57h1.05v-5.57zM51.8 169.84v1.57h1.05v-1.57zM56.75 177.61v2.65h1.05v-2.65zM60.06 182.46v0.98h1.05v-0.98zM63.36 183.66v2.96h1.05v-2.96zM66.66 188.04v1.03h1.05v-1.03zM69.14 188.94v0.9h1.05v-0.9zM73.27 191.23v4.29h1.05v-4.29zM74.92 190.16v2.03h1.05v-2.03zM76.57 189.29v0.9h1.05v-0.9zM77.4 185.71v3.62h1.05v-3.62zM79.05 185.23v0.9h1.05v-0.9zM84 187.88v1.61h1.05v-1.61zM87.31 189.63v2.52h1.05v-2.52zM89.78 189.17v1.01h1.05v-1.01zM92.26 187.27v2.49h1.05v-2.49zM93.09 183.66v3.6h1.05v-3.6zM93.91 181.84v1.83h1.05v-1.83zM98.04 179.65v5.89h1.05v-5.89zM98.87 177.78v1.87h1.05v-1.87zM102.17 175.3v3.33h1.05v-3.33zM103.82 171.26v4.03h1.05v-4.03zM106.3 177.26v4.95h1.05v-4.95zM108.78 178.42v1.23h1.05v-1.23zM109.6 176.97v1.45h1.05v-1.45zM112.91 198.6v12.4h1.05v-12.4zM115.38 196.57v8.43h1.05v-8.43zM117.04 190.99v5.58h1.05v-5.58zM119.51 190.62v7.41h1.05v-7.41zM121.16 197.59v2.67h1.05v-2.67zM122.82 189.35v8.25h1.05v-8.25zM126.12 200.14v8.33h1.05v-8.33zM131.9 209.81v4.19h1.05v-4.19zM134.38 209.56v2.82h1.05v-2.82zM136.03 205.47v4.1h1.05v-4.1zM137.68 205.05v1.68h1.05v-1.68zM139.33 201.47v3.58h1.05v-3.58zM141.81 204.74v2.02h1.05v-2.02zM144.29 205.31v3.11h1.05v-3.11zM145.11 200.56v4.75h1.05v-4.75zM146.76 191.7v8.86h1.05v-8.86zM148.42 194.58v2.32h1.05v-2.32zM152.54 197.83v3.89h1.05v-3.89zM155.02 199.14v3.8h1.05v-3.8zM160.8 221.45v5.79h1.05v-5.79zM164.11 229.46v5.53h1.05v-5.53zM164.93 215.2v14.26h1.05v-14.26zM167.41 206.81v16.26h1.05v-16.26zM169.89 202.21v8.91h1.05v-8.91zM172.36 198.58v10.48h1.05v-10.48zM173.19 187.49v11.09h1.05v-11.09zM179.8 215.94v4.38h1.05v-4.38zM180.62 213.82v2.12h1.05v-2.12zM182.27 202.33v11.49h1.05v-11.49zM183.1 193.51v8.82h1.05v-8.82zM188.05 214.24v7.41h1.05v-7.41zM191.36 211.92v14.22h1.05v-14.22zM192.18 207.31v4.62h1.05v-4.62zM196.31 201.73v8.66h1.05v-8.66zM198.79 206.52v1.81h1.05v-1.81zM199.62 203.19v3.33h1.05v-3.33zM202.09 207.5v1.15h1.05v-1.15zM207.05 218.6v0.9h1.05v-0.9zM209.52 217.73v2.15h1.05v-2.15zM210.35 211.66v6.07h1.05v-6.07zM212.83 209.93v4.95h1.05v-4.95zM215.31 210.12v1.03h1.05v-1.03zM216.13 208.06v2.06h1.05v-2.06zM217.78 204.61v3.45h1.05v-3.45zM219.43 201.43v3.7h1.05v-3.7zM221.09 200.12v1.32h1.05v-1.32zM221.91 197.62v2.5h1.05v-2.5zM224.39 194.74v3.13h1.05v-3.13zM226.04 192.96v1.78h1.05v-1.78zM226.87 192.17v0.9h1.05v-0.9zM227.69 191.77v0.9h1.05v-0.9zM230.17 194.67v0.9h1.05v-0.9zM231.82 193.17v1.77h1.05v-1.77zM235.12 193.57v0.9h1.05v-0.9zM235.95 192.79v0.9h1.05v-0.9zM237.6 182.19v10.62h1.05v-10.62zM240.08 173.17v21.36h1.05v-21.36zM242.56 172.3v12.84h1.05v-12.84zM243.38 165.45v6.85h1.05v-6.85zM245.03 143.41v22.04h1.05v-22.04zM246.69 143.94v13.9h1.05v-13.9zM250.81 159.56v7.74h1.05v-7.74zM254.12 152.83v7.87h1.05v-7.87zM254.94 148.14v4.69h1.05v-4.69zM257.42 150.27v5.33h1.05v-5.33zM259.07 144.09v6.18h1.05v-6.18zM261.55 147.1v1.15h1.05v-1.15zM264.85 164.78v1.43h1.05v-1.43zM268.16 173.77v1.36h1.05v-1.36zM270.63 171.19v3.46h1.05v-3.46zM272.29 170.66v0.9h1.05v-0.9zM273.11 169.61v1.42h1.05v-1.42zM273.94 168.91v0.9h1.05v-0.9zM276.41 159.59v11.09h1.05v-11.09zM281.37 170.25v15.2h1.05v-15.2zM283.85 185.11v0.9h1.05v-0.9zM286.32 185.41v0.98h1.05v-0.98zM289.63 192.77v1.06h1.05v-1.06zM292.11 191.47v2.48h1.05v-2.48zM294.58 187.95v5.6h1.05v-5.6zM295.41 184.2v3.75h1.05v-3.75zM297.89 185.27v1.5h1.05v-1.5zM302.84 190.96v2.14h1.05v-2.14zM303.67 187.89v3.06h1.05v-3.06zM305.32 187.08v0.9h1.05v-0.9zM307.8 180.11v8.26h1.05v-8.26zM308.62 176.7v3.4h1.05v-3.4zM309.45 169.45v7.25h1.05v-7.25zM316.05 178.01v2.15h1.05v-2.15zM317.7 182.41v5.93h1.05v-5.93zM320.18 180.66v11.85h1.05v-11.85zM322.66 179.55v4.03h1.05v-4.03zM324.31 175.1v4.45h1.05v-4.45zM327.61 184.53v7.44h1.05v-7.44zM330.09 177.96v14.73h1.05v-14.73zM330.92 172.2v5.77h1.05v-5.77zM335.87 189.12v9.06h1.05v-9.06zM336.7 183.92v5.2h1.05v-5.2zM340.83 189.14v6.28h1.05v-6.28zM344.13 190.04v8.92h1.05v-8.92zM346.61 191.05v3.27h1.05v-3.27zM349.09 196.87v6.1h1.05v-6.1zM352.39 199.19v4.29h1.05v-4.29zM354.87 205.19v5.18h1.05v-5.18zM355.69 198.48v6.7h1.05v-6.7zM359.82 201.55v3.38h1.05v-3.38zM360.65 200.61v0.94h1.05v-0.94zM362.3 199.82v0.9h1.05v-0.9zM365.6 204.88v2.06h1.05v-2.06zM366.43 203.8v1.08h1.05v-1.08zM368.9 188.02v16.94h1.05v-16.94zM372.21 206.08v1.09h1.05v-1.09zM377.16 215.98v9.01h1.05v-9.01zM379.64 217.24v4.98h1.05v-4.98zM382.12 224.59v9.81h1.05v-9.81zM385.42 231.21v11.6h1.05v-11.6zM393.68 272.13v16.05h1.05v-16.05zM396.16 268.45v12.34h1.05v-12.34zM398.63 272.09v2.21h1.05v-2.21zM399.46 257.84v14.26h1.05v-14.26zM401.94 252.41v10.14h1.05v-10.14zM406.07 257.54v6.83h1.05v-6.83zM406.89 252.58v4.96h1.05v-4.96zM409.37 254.04v5.11h1.05v-5.11zM410.19 248.36v5.68h1.05v-5.68zM411.85 238.27v10.09h1.05v-10.09zM415.15 234.16v12.84h1.05v-12.84zM431.67 253.79v2.1h1.05v-2.1zM434.14 253.48v1.5h1.05v-1.5zM436.62 252.49v9.71h1.05v-9.71zM441.57 261.02v0.9h1.05v-0.9zM442.4 260.04v1.39h1.05v-1.39zM444.88 261.08v0.9h1.05v-0.9zM448.18 261.49v1.97h1.05v-1.97zM449.83 259.64v1.85h1.05v-1.85zM450.66 258.68v0.97h1.05v-0.97zM453.14 258.85v0.9h1.05v-0.9zM453.96 256.49v2.43h1.05v-2.43zM456.44 254.31v3.59h1.05v-3.59zM458.92 255.84v1.57h1.05v-1.57zM460.57 254.39v1.45h1.05v-1.45zM461.39 251.8v2.6h1.05v-2.6zM463.87 251.42v1.09h1.05v-1.09zM464.7 250.71v0.9h1.05v-0.9zM466.35 250.37v0.9h1.05v-0.9zM467.17 249.25v1.49h1.05v-1.49zM468.83 248.5v0.9h1.05v-0.9zM470.48 250.57v0.9h1.05v-0.9zM474.61 249.32v3.88h1.05v-3.88zM478.74 255.93v0.9h1.05v-0.9zM481.21 258.26v1.22h1.05v-1.22zM482.86 255.53v2.73h1.05v-2.73zM486.17 255.93v1.85h1.05v-1.85zM487.82 250.09v5.85h1.05v-5.85zM489.47 246.64v8.17h1.05v-8.17zM491.95 245.46v7.33h1.05v-7.33zM496.9 255.62v2.69h1.05v-2.69zM499.38 257.22v4.25h1.05v-4.25zM501.86 258.35v4.82h1.05v-4.82zM505.16 263.8v3.86h1.05v-3.86zM507.64 268.54v1.27h1.05v-1.27zM508.46 265.6v2.95h1.05v-2.95zM510.94 265.29v0.9h1.05v-0.9zM513.42 266.03v0.9h1.05v-0.9zM516.72 270.39v0.9h1.05v-0.9zM521.68 274.15v11.07h1.05v-11.07zM524.15 271.78v7.49h1.05v-7.49zM524.98 268.55v3.23h1.05v-3.23zM527.46 259.59v11.67h1.05v-11.67zM529.94 255.67v14.42h1.05v-14.42zM532.41 258.61v2.66h1.05v-2.66zM535.72 270.51v5.46h1.05v-5.46zM539.85 280.33v10.72h1.05v-10.72zM541.5 284.06v8.3h1.05v-8.3zM543.97 280.47v10.54h1.05v-10.54zM546.45 280.68v12.83h1.05v-12.83zM548.93 291.43v0.9h1.05v-0.9zM550.58 283.32v8.15h1.05v-8.15zM553.88 282.67v13.46h1.05v-13.46zM556.36 267.98v16.8h1.05v-16.8zM557.19 261.47v6.51h1.05v-6.51zM559.66 269.19v7.11h1.05v-7.11zM562.14 277.12v0.9h1.05v-0.9zM562.97 267.64v9.69h1.05v-9.69zM565.44 271.78v8.69h1.05v-8.69zM567.92 271.86v0.9h1.05v-0.9zM570.4 271.38v12h1.05v-12zM572.88 265.64v9.28h1.05v-9.28zM575.35 268.07v9.74h1.05v-9.74zM577.01 265.12v11.73h1.05v-11.73zM578.66 257.45v7.67h1.05v-7.67zM579.48 246.12v11.33h1.05v-11.33zM584.44 264.17v10.8h1.05v-10.8zM586.09 258.28v5.89h1.05v-5.89zM589.39 234.95v41.35h1.05v-41.35zM591.87 256.9v5.58h1.05v-5.58zM594.35 263.49v13.14h1.05v-13.14zM596 271.56v6.9h1.05v-6.9zM600.13 286.87v5.36h1.05v-5.36zM600.95 274.67v12.2h1.05v-12.2zM602.61 263.54v11.13h1.05v-11.13zM604.26 263.82v3.11h1.05v-3.11zM605.91 250.74v13.09h1.05v-13.09zM608.39 263.02v4.47h1.05v-4.47zM609.21 250.55v12.47h1.05v-12.47zM611.69 240.42v12.84h1.05v-12.84zM614.99 239.99v14.17h1.05v-14.17zM619.12 243.3v3.37h1.05v-3.37zM619.95 240.86v2.44h1.05v-2.44zM622.43 234.97v6.13h1.05v-6.13zM624.9 226.16v15.24h1.05v-15.24zM631.51 239.6v8.33h1.05v-8.33zM633.99 244.14v0.9h1.05v-0.9zM635.64 239.3v5.22h1.05v-5.22zM638.12 238.69v4.75h1.05v-4.75zM641.42 243.11v1.36h1.05v-1.36zM648.85 254.35v0.9h1.05v-0.9zM649.68 253.85v0.9h1.05v-0.9zM650.5 251.9v2.1h1.05v-2.1zM652.15 251.32v0.9h1.05v-0.9zM652.98 246.62v5.01h1.05v-5.01zM655.46 246.97v1.48h1.05v-1.48zM657.11 245.14v1.83h1.05v-1.83zM657.93 244.22v0.91h1.05v-0.91zM660.41 241.95v4.6h1.05v-4.6zM665.37 252.87v0.9h1.05v-0.9zM666.19 246.95v6.13h1.05v-6.13zM669.5 246.71v2.2h1.05v-2.2zM671.15 244.58v2.13h1.05v-2.13zM671.97 240.23v4.35h1.05v-4.35zM674.45 241.9v0.9h1.05v-0.9zM676.1 241.41v0.9h1.05v-0.9zM676.93 240.19v1.31h1.05v-1.31zM677.75 238.13v2.06h1.05v-2.06zM680.23 239.41v1.35h1.05v-1.35zM681.88 237.25v2.16h1.05v-2.16zM684.36 236.94v2.8h1.05v-2.8zM688.49 242.82v1.27h1.05v-1.27zM692.62 245.35v0.9h1.05v-0.9zM693.44 241.1v4.41h1.05v-4.41zM694.27 239.78v1.32h1.05v-1.32zM695.92 235.21v4.57h1.05v-4.57zM696.75 234v1.21h1.05v-1.21zM699.22 232.93v1.32h1.05v-1.32zM700.88 231.21v1.73h1.05v-1.73zM702.53 227.2v5.96h1.05v-5.96zM709.13 233.94v1.98h1.05v-1.98zM709.96 229.47v4.47h1.05v-4.47zM712.44 229.51v2.86h1.05v-2.86zM713.26 228.62v0.9h1.05v-0.9zM715.74 230.66v2.08h1.05v-2.08zM717.39 230.19v0.9h1.05v-0.9zM718.22 227.69v2.94h1.05v-2.94zM723.17 231.43v0.9h1.05v-0.9zM728.13 236.68v0.9h1.05v-0.9zM731.43 236.98v3.93h1.05v-3.93zM734.73 238.16v2.69h1.05v-2.69zM737.21 236.78v1.92h1.05v-1.92zM738.86 234.17v2.61h1.05v-2.61zM739.69 233.7v0.9h1.05v-0.9zM742.17 230.19v5.45h1.05v-5.45zM747.12 236.9v7.32h1.05v-7.32zM751.25 242.83v6.34h1.05v-6.34zM753.73 239.11v10.74h1.05v-10.74zM756.2 236.98v8.62h1.05v-8.62zM759.51 238.92v6.93h1.05v-6.93zM763.64 241.38v2.61h1.05v-2.61zM766.94 251.55v6.72h1.05v-6.72zM769.42 254.31v2.31h1.05v-2.31zM771.89 253.38v4.16h1.05v-4.16zM774.37 252.93v8.94h1.05v-8.94zM775.2 251.67v1.26h1.05v-1.26zM777.68 249.29v3.49h1.05v-3.49zM780.98 248.77v7.77h1.05v-7.77zM783.46 246.16v4.48h1.05v-4.48zM785.93 251.34v3.73h1.05v-3.73zM791.71 250.99v7.65h1.05v-7.65zM795.02 255.47v5.89h1.05v-5.89zM796.67 242.79v12.68h1.05v-12.68zM799.15 241.35v8.78h1.05v-8.78zM799.97 201v61h1.05v-61zM801.62 186v15h1.05v-15zM802.45 166v20h1.05v-20zM803.28 145v21h1.05v-21zM804.93 138v7h1.05v-7zM807.4 135.25v6.75h1.05v-6.75zM809.88 124.84v17.55h1.05v-17.55zM811.53 131.79v15.11h1.05v-15.11zM814.01 142.42v11.18h1.05v-11.18zM816.49 133.43v13.23h1.05v-13.23zM818.14 128.03v5.41h1.05v-5.41zM819.79 128.11v11.2h1.05v-11.2zM822.27 114.42v22.13h1.05v-22.13zM823.92 112.66v1.76h1.05v-1.76zM824.75 108.38v4.28h1.05v-4.28zM827.22 112.81v2.97h1.05v-2.97zM828.88 107.34v5.47h1.05v-5.47zM832.18 111.24v9.49h1.05v-9.49zM835.48 115.71v2.6h1.05v-2.6zM837.96 112.62v3.43h1.05v-3.43zM840.44 118.3v0.9h1.05v-0.9zM841.26 115.75v3h1.05v-3zM843.74 108.78v7.55h1.05v-7.55zM857.78 150.57v0.9h1.05v-0.9zM860.26 156.05v0.9h1.05v-0.9zM864.38 157.39v1.26h1.05v-1.26zM865.21 156.23v1.16h1.05v-1.16z" fill="#149a84"/>
<path d="M3.08 163v1.47h1.05v-1.47zM3.9 164.47v3.96h1.05v-3.96zM5.55 168.43v1.74h1.05v-1.74zM8.03 168.89v2.43h1.05v-2.43zM8.86 171.04v0.9h1.05v-0.9zM10.51 171.66v2.3h1.05v-2.3zM11.33 173.95v1.96h1.05v-1.96zM13.81 174.13v0.9h1.05v-0.9zM14.64 174.74v1.48h1.05v-1.48zM16.29 175.83v0.9h1.05v-0.9zM21.24 174.27v0.9h1.05v-0.9zM22.89 172.03v2.17h1.05v-2.17zM25.37 172.31v0.9h1.05v-0.9zM27.85 172.18v0.9h1.05v-0.9zM30.33 171.23v0.9h1.05v-0.9zM35.28 163.7v1.03h1.05v-1.03zM36.11 164.49v0.9h1.05v-0.9zM37.76 165.01v0.9h1.05v-0.9zM39.41 164.87v1.11h1.05v-1.11zM41.89 165.63v0.9h1.05v-0.9zM43.54 166.49v2.36h1.05v-2.36zM46.02 167.79v1.64h1.05v-1.64zM46.84 169.44v1.78h1.05v-1.78zM49.32 165.66v2.64h1.05v-2.64zM50.15 168.29v3.12h1.05v-3.12zM52.62 169.75v0.9h1.05v-0.9zM54.27 170.56v6.08h1.05v-6.08zM55.1 176.64v3.62h1.05v-3.62zM57.58 177.61v5.65h1.05v-5.65zM58.4 182.9v0.9h1.05v-0.9zM60.88 182.46v3.97h1.05v-3.97zM62.53 186.08v0.9h1.05v-0.9zM65.01 183.66v3.91h1.05v-3.91zM65.84 187.57v1.49h1.05v-1.49zM68.31 188.04v1.8h1.05v-1.8zM70.79 188.95v4.16h1.05v-4.16zM71.62 193.11v2.41h1.05v-2.41zM74.09 191.23v0.97h1.05v-0.97zM79.87 185.48v0.9h1.05v-0.9zM81.53 186.2v2.21h1.05v-2.21zM82.35 188.41v1.08h1.05v-1.08zM84.83 187.88v1.4h1.05v-1.4zM85.65 189.28v2.87h1.05v-2.87zM88.13 189.46v0.9h1.05v-0.9zM90.61 189.01v0.9h1.05v-0.9zM95.56 181.57v0.9h1.05v-0.9zM96.39 182.21v3.33h1.05v-3.33zM100.52 177.57v0.9h1.05v-0.9zM101.35 178v0.9h1.05v-0.9zM104.65 171.26v10.94h1.05v-10.94zM107.13 177.26v2.39h1.05v-2.39zM110.43 176.97v12.75h1.05v-12.75zM112.08 179v13h1.05v-13zM114.56 203v2h1.05v-2zM117.86 190.99v7.05h1.05v-7.05zM120.34 190.62v9.64h1.05v-9.64zM123.64 189.35v12.55h1.05v-12.55zM125.29 201.9v6.57h1.05v-6.57zM127.77 200.14v3.04h1.05v-3.04zM128.6 203.18v1.7h1.05v-1.7zM129.42 204.89v5.46h1.05v-5.46zM131.07 210.35v3.65h1.05v-3.65zM133.55 209.81v2.57h1.05v-2.57zM136.85 205.47v1.26h1.05v-1.26zM140.16 201.47v5.29h1.05v-5.29zM142.64 204.74v3.68h1.05v-3.68zM147.59 191.7v5.2h1.05v-5.2zM150.07 194.58v3.1h1.05v-3.1zM150.89 197.69v4.03h1.05v-4.03zM153.37 197.83v5.11h1.05v-5.11zM155.85 199.14v6.82h1.05v-6.82zM156.67 205.65v0.9h1.05v-0.9zM158.33 206.23v13.07h1.05v-13.07zM159.15 219.31v7.93h1.05v-7.93zM161.63 221.45v11.69h1.05v-11.69zM163.28 233.14v1.85h1.05v-1.85zM166.58 215.2v7.87h1.05v-7.87zM169.06 206.81v4.32h1.05v-4.32zM171.54 202.21v6.85h1.05v-6.85zM174.84 187.49v13.55h1.05v-13.55zM175.67 201.05v11.37h1.05v-11.37zM177.32 212.41v3.52h1.05v-3.52zM178.14 215.93v4.38h1.05v-4.38zM183.93 193.51v16.43h1.05v-16.43zM185.58 209.94v4.98h1.05v-4.98zM186.4 214.93v6.73h1.05v-6.73zM188.88 214.24v1.12h1.05v-1.12zM190.53 215.37v10.78h1.05v-10.78zM193.83 207.19v0.9h1.05v-0.9zM194.66 207.97v2.42h1.05v-2.42zM197.14 201.73v6.61h1.05v-6.61zM200.44 203.19v5.46h1.05v-5.46zM202.92 207.5v3.89h1.05v-3.89zM204.57 211.39v4.03h1.05v-4.03zM205.4 215.42v3.76h1.05v-3.76zM207.87 218.93v0.95h1.05v-0.95zM211.18 211.66v3.22h1.05v-3.22zM213.65 209.93v1.22h1.05v-1.22zM218.61 204.42v0.9h1.05v-0.9zM223.56 197.3v0.9h1.05v-0.9zM229.34 192.17v3.15h1.05v-3.15zM232.65 193.16v0.9h1.05v-0.9zM234.3 193.75v0.9h1.05v-0.9zM238.43 182.19v12.35h1.05v-12.35zM240.91 173.17v11.97h1.05v-11.97zM245.86 143.41v14.43h1.05v-14.43zM248.34 143.94v15.2h1.05v-15.2zM249.16 159.14v8.16h1.05v-8.16zM251.64 159.32v0.9h1.05v-0.9zM253.29 159.89v0.9h1.05v-0.9zM256.6 148.14v7.46h1.05v-7.46zM259.9 144.09v4.16h1.05v-4.16zM262.38 147.1v6.16h1.05v-6.16zM263.2 153.26v12.94h1.05v-12.94zM265.68 164.78v2.65h1.05v-2.65zM267.33 167.43v7.7h1.05v-7.7zM269.81 173.76v0.9h1.05v-0.9zM275.59 169.11v1.57h1.05v-1.57zM278.07 159.59v5.42h1.05v-5.42zM278.89 165.01v7.58h1.05v-7.58zM280.54 172.59v12.85h1.05v-12.85zM282.2 170.25v15.62h1.05v-15.62zM284.67 185.25v1.13h1.05v-1.13zM287.15 185.41v4.09h1.05v-4.09zM288.8 189.49v4.34h1.05v-4.34zM290.45 192.77v1.17h1.05v-1.17zM292.93 191.47v2.08h1.05v-2.08zM297.06 184.2v2.57h1.05v-2.57zM299.54 185.23v0.9h1.05v-0.9zM300.36 186.1v2.9h1.05v-2.9zM301.19 189v4.1h1.05v-4.1zM306.14 187.17v1.2h1.05v-1.2zM311.1 169.45v4.1h1.05v-4.1zM311.92 173.55v3.9h1.05v-3.9zM313.58 177.45v1.25h1.05v-1.25zM314.4 178.7v1.45h1.05v-1.45zM316.88 178.01v10.34h1.05v-10.34zM319.36 182.41v10.1h1.05v-10.1zM321.83 180.66v2.92h1.05v-2.92zM325.14 175.1v15.47h1.05v-15.47zM325.96 190.57v1.4h1.05v-1.4zM328.44 184.53v8.17h1.05v-8.17zM332.57 172.2v9.71h1.05v-9.71zM333.4 181.9v3.28h1.05v-3.28zM335.05 185.19v13h1.05v-13zM338.35 183.92v4.73h1.05v-4.73zM339.18 188.65v6.77h1.05v-6.77zM341.65 189.14v5.63h1.05v-5.63zM343.3 194.78v4.18h1.05v-4.18zM344.96 190.04v4.27h1.05v-4.27zM347.43 191.05v11.92h1.05v-11.92zM349.91 196.87v6.01h1.05v-6.01zM351.56 202.73v0.9h1.05v-0.9zM353.21 199.19v11.18h1.05v-11.18zM357.34 198.48v3.14h1.05v-3.14zM358.17 201.63v3.3h1.05v-3.3zM363.12 199.74v0.9h1.05v-0.9zM363.95 200.44v6.5h1.05v-6.5zM368.08 203.8v1.17h1.05v-1.17zM370.56 188.02v6.09h1.05v-6.09zM371.38 194.12v13.05h1.05v-13.05zM373.86 206.08v6.18h1.05v-6.18zM374.69 212.26v5.33h1.05v-5.33zM376.34 217.59v7.41h1.05v-7.41zM378.81 215.98v6.24h1.05v-6.24zM380.47 217.24v17.17h1.05v-17.17zM382.94 224.59v6.88h1.05v-6.88zM384.59 231.46v11.35h1.05v-11.35zM387.07 231.21v6h1.05v-6zM387.9 237.21v13.61h1.05v-13.61zM388.72 250.83v9.52h1.05v-9.52zM390.38 260.34v6.26h1.05v-6.26zM391.2 266.61v14.19h1.05v-14.19zM392.85 280.79v7.38h1.05v-7.38zM395.33 272.13v8.66h1.05v-8.66zM397.81 268.45v5.85h1.05v-5.85zM401.11 257.84v4.71h1.05v-4.71zM403.59 252.41v11.07h1.05v-11.07zM404.41 263.47v0.9h1.05v-0.9zM407.72 252.58v6.57h1.05v-6.57zM412.67 238.27v1.71h1.05v-1.71zM414.32 239.98v7.02h1.05v-7.02zM415.98 234.16v0.98h1.05v-0.98zM417.63 235.14v1.46h1.05v-1.46zM418.45 236.59v2h1.05v-2zM420.1 238.59v3.39h1.05v-3.39zM420.93 241.98v1.13h1.05v-1.13zM422.58 243.12v3.08h1.05v-3.08zM423.41 246.19v1.44h1.05v-1.44zM425.06 247.21v0.9h1.05v-0.9zM425.88 247.69v1.79h1.05v-1.79zM426.71 249.48v1.9h1.05v-1.9zM428.36 251.3v0.9h1.05v-0.9zM429.19 252.11v1.32h1.05v-1.32zM430.84 253.43v2.46h1.05v-2.46zM433.32 253.79v1.19h1.05v-1.19zM434.97 253.48v8.73h1.05v-8.73zM437.45 252.36v0.9h1.05v-0.9zM439.1 253.12v7.41h1.05v-7.41zM439.92 260.53v0.99h1.05v-0.99zM443.23 260.04v1.62h1.05v-1.62zM445.7 261.4v1.26h1.05v-1.26zM447.36 262.61v0.9h1.05v-0.9zM451.48 258.68v1.01h1.05v-1.01zM455.61 256.49v1.41h1.05v-1.41zM458.09 254.31v3.1h1.05v-3.1zM462.22 251.71v0.9h1.05v-0.9zM469.65 248.65v2.76h1.05v-2.76zM472.13 250.62v0.9h1.05v-0.9zM472.96 251.49v1.71h1.05v-1.71zM475.43 249.32v2.25h1.05v-2.25zM477.08 251.57v3.37h1.05v-3.37zM477.91 254.95v1.83h1.05v-1.83zM480.39 255.97v3.51h1.05v-3.51zM483.69 255.29v0.9h1.05v-0.9zM485.34 255.95v1.84h1.05v-1.84zM488.65 250.09v4.73h1.05v-4.73zM491.12 246.64v6.14h1.05v-6.14zM493.6 245.46v5.79h1.05v-5.79zM494.43 250.89v0.9h1.05v-0.9zM496.08 251.43v6.88h1.05v-6.88zM497.73 255.62v5.85h1.05v-5.85zM500.21 257.22v5.95h1.05v-5.95zM502.68 258.35v5.02h1.05v-5.02zM504.34 263.37v4.29h1.05v-4.29zM505.99 263.8v6.02h1.05v-6.02zM510.12 265.38v0.9h1.05v-0.9zM512.59 265.41v1.31h1.05v-1.31zM514.25 266.24v4.03h1.05v-4.03zM515.9 270.12v0.9h1.05v-0.9zM518.37 270.82v7.19h1.05v-7.19zM519.2 278.01v2.97h1.05v-2.97zM520.85 280.98v4.24h1.05v-4.24zM523.33 274.15v5.13h1.05v-5.13zM526.63 268.55v2.7h1.05v-2.7zM529.11 259.59v10.5h1.05v-10.5zM531.59 255.67v5.59h1.05v-5.59zM533.24 258.61v6.49h1.05v-6.49zM534.89 265.09v10.88h1.05v-10.88zM537.37 270.51v8.07h1.05v-8.07zM538.19 278.58v12.48h1.05v-12.48zM540.67 280.33v12.02h1.05v-12.02zM543.15 284.06v6.96h1.05v-6.96zM545.63 280.47v13.04h1.05v-13.04zM548.1 280.68v11.62h1.05v-11.62zM551.41 283.32v7.69h1.05v-7.69zM552.23 291.01v5.13h1.05v-5.13zM554.71 282.67v2.11h1.05v-2.11zM558.84 261.47v14.83h1.05v-14.83zM560.49 269.19v8.63h1.05v-8.63zM564.62 267.64v12.83h1.05v-12.83zM567.1 271.67v0.9h1.05v-0.9zM568.75 272.17v11.21h1.05v-11.21zM571.23 271.38v3.54h1.05v-3.54zM573.7 265.64v12.17h1.05v-12.17zM576.18 268.07v8.78h1.05v-8.78zM581.13 246.12v4.07h1.05v-4.07zM581.96 250.18v17.95h1.05v-17.95zM583.61 268.13v6.84h1.05v-6.84zM586.92 258.28v5.6h1.05v-5.6zM587.74 263.87v12.42h1.05v-12.42zM590.22 234.95v27.53h1.05v-27.53zM592.7 256.9v19.73h1.05v-19.73zM595.17 263.49v14.97h1.05v-14.97zM597.65 271.56v14.8h1.05v-14.8zM598.48 286.37v5.86h1.05v-5.86zM603.43 263.54v3.39h1.05v-3.39zM606.73 250.74v16.76h1.05v-16.76zM610.86 250.55v2.71h1.05v-2.71zM613.34 240.42v11.39h1.05v-11.39zM614.17 251.82v2.34h1.05v-2.34zM616.64 239.99v4.12h1.05v-4.12zM617.47 244.11v2.55h1.05v-2.55zM621.6 240.53v0.9h1.05v-0.9zM623.25 234.97v6.43h1.05v-6.43zM625.73 226.16v6.07h1.05v-6.07zM627.38 232.23v3.11h1.05v-3.11zM628.21 235.12v0.9h1.05v-0.9zM629.86 235.81v2.89h1.05v-2.89zM630.68 238.7v9.22h1.05v-9.22zM633.16 239.6v5.07h1.05v-5.07zM636.46 239.3v4.14h1.05v-4.14zM638.94 238.69v3.58h1.05v-3.58zM639.77 242.27v2.21h1.05v-2.21zM642.24 243.11v5.62h1.05v-5.62zM643.9 248.73v2.46h1.05v-2.46zM644.72 251.2v2.31h1.05v-2.31zM646.37 253.51v1.03h1.05v-1.03zM647.2 254.33v0.9h1.05v-0.9zM654.63 246.62v1.83h1.05v-1.83zM658.76 244.22v2.33h1.05v-2.33zM661.24 241.95v4.29h1.05v-4.29zM662.89 246.24v3.96h1.05v-3.96zM663.72 250.21v3.36h1.05v-3.36zM667.02 246.8v0.9h1.05v-0.9zM668.67 247.55v1.36h1.05v-1.36zM673.62 240.23v2.26h1.05v-2.26zM679.41 238.13v2.63h1.05v-2.63zM682.71 237.25v2.48h1.05v-2.48zM685.19 236.64v0.9h1.05v-0.9zM686.01 237.25v1.75h1.05v-1.75zM687.66 239v5.09h1.05v-5.09zM690.14 242.82v1.1h1.05v-1.1zM690.97 243.92v2.18h1.05v-2.18zM698.4 233.68v0.9h1.05v-0.9zM701.7 231.21v1.95h1.05v-1.95zM704.18 226.9v0.9h1.05v-0.9zM705 227.5v5.5h1.05v-5.5zM706.66 232.75v0.9h1.05v-0.9zM707.48 233.41v2.51h1.05v-2.51zM711.61 229.47v2.89h1.05v-2.89zM714.91 228.63v4.11h1.05v-4.11zM719.87 227.69v2.59h1.05v-2.59zM720.7 230.22v0.9h1.05v-0.9zM721.52 231.06v1.1h1.05v-1.1zM724 231.6v2.96h1.05v-2.96zM725.65 234.56v2.85h1.05v-2.85zM726.48 237.03v0.9h1.05v-0.9zM728.95 236.7v1.92h1.05v-1.92zM729.78 238.62v2.29h1.05v-2.29zM732.26 236.98v3.71h1.05v-3.71zM733.91 240.32v0.9h1.05v-0.9zM736.39 237.98v0.9h1.05v-0.9zM740.51 234.14v1.5h1.05v-1.5zM742.99 230.19v5.07h1.05v-5.07zM744.64 235.26v5.17h1.05v-5.17zM745.47 240.43v3.8h1.05v-3.8zM747.95 236.9v5.69h1.05v-5.69zM748.77 242.6v1.96h1.05v-1.96zM750.42 244.56v4.61h1.05v-4.61zM752.9 242.83v7.02h1.05v-7.02zM755.38 239.11v6.48h1.05v-6.48zM757.03 236.98v6.84h1.05v-6.84zM758.68 243.81v2.04h1.05v-2.04zM761.16 238.92v1.59h1.05v-1.59zM761.99 240.5v3.49h1.05v-3.49zM764.46 241.38v6.23h1.05v-6.23zM765.29 247.61v10.66h1.05v-10.66zM767.77 251.55v5.08h1.05v-5.08zM770.24 254.31v3.22h1.05v-3.22zM772.72 253.38v8.5h1.05v-8.5zM776.02 251.67v1.11h1.05v-1.11zM778.5 249.29v4.85h1.05v-4.85zM780.15 254.14v2.4h1.05v-2.4zM782.63 248.77v1.87h1.05v-1.87zM784.28 246.16v8.91h1.05v-8.91zM786.76 251.31v0.9h1.05v-0.9zM788.41 252.18v4.55h1.05v-4.55zM789.24 256.73v1.47h1.05v-1.47zM790.89 257.97v0.9h1.05v-0.9zM792.54 250.99v3.5h1.05v-3.5zM794.19 254.49v6.87h1.05v-6.87zM797.49 242.79v7.33h1.05v-7.33zM805.75 138v4h1.05v-4zM808.23 135.25v7.13h1.05v-7.13zM810.71 124.84v22.06h1.05v-22.06zM813.18 131.79v21.81h1.05v-21.81zM815.66 142.42v4.24h1.05v-4.24zM818.97 128.03v11.29h1.05v-11.29zM821.44 128.11v8.44h1.05v-8.44zM826.4 108.38v7.41h1.05v-7.41zM829.7 107.34v7.06h1.05v-7.06zM830.53 114.4v6.34h1.05v-6.34zM833 111.24v2.71h1.05v-2.71zM834.66 113.95v4.36h1.05v-4.36zM837.13 115.43v0.9h1.05v-0.9zM838.78 112.62v6.12h1.05v-6.12zM842.91 115.59v0.9h1.05v-0.9zM845.39 108.78v9.72h1.05v-9.72zM846.22 118.5v1.24h1.05v-1.24zM847.04 119.75v6.65h1.05v-6.65zM848.69 126.39v5.37h1.05v-5.37zM849.52 131.76v1.06h1.05v-1.06zM851.17 132.58v0.9h1.05v-0.9zM852 133.24v9.03h1.05v-9.03zM853.65 141.99v0.9h1.05v-0.9zM854.47 142.59v4.04h1.05v-4.04zM855.3 146.64v1.77h1.05v-1.77zM856.95 148.41v2.82h1.05v-2.82zM859.43 150.81v6.05h1.05v-6.05zM861.91 156.13v1.7h1.05v-1.7zM862.73 157.79v0.9h1.05v-0.9z" fill="#f23f4e"/>
<path d="M3 157.9 3.6 158.44 4.2 159 4.8 159.58 5.4 160.18 6 160.78 6.6 161.4 7.2 162.06 7.8 162.74 8.4 163.44 9 164.16 9.6 164.86 10.2 165.55 10.8 166.2 11.4 166.82 12 167.41 12.6 167.97 13.2 168.51 13.8 169.01 14.4 169.49 15 169.93 15.6 170.34 16.2 170.72 16.8 171.07 17.4 171.39 18 171.68 18.6 171.96 19.2 172.22 19.8 172.46 20.4 172.69 21 172.9 21.6 173.08 22.2 173.24 22.8 173.35 23.4 173.42 24 173.45 24.6 173.46" fill="none" stroke="#d9573f" stroke-width="1.55" stroke-linecap="round" stroke-linejoin="round"/>
<path d="M24.6 173.46 25.2 173.43 25.8 173.38 26.4 173.3 27 173.2 27.6 173.09 28.2 172.97 28.8 172.84 29.4 172.7 30 172.53 30.6 172.35 31.2 172.14 31.8 171.9 32.4 171.66 33 171.41 33.6 171.16 34.2 170.91 34.8 170.65 35.4 170.39 36 170.12 36.6 169.84 37.2 169.56 37.8 169.27 38.4 168.98 39 168.7 39.6 168.43 40.2 168.18 40.8 167.98 41.4 167.82 42 167.71 42.6 167.64 43.2 167.6 43.8 167.58" fill="none" stroke="#2aa893" stroke-width="1.55" stroke-linecap="round" stroke-linejoin="round"/>
<path d="M43.8 167.58 44.4 167.58 45 167.6 45.6 167.63 46.2 167.68 46.8 167.73 47.4 167.79 48 167.85 48.6 167.93 49.2 168.02 49.8 168.13 50.4 168.25 51 168.39 51.6 168.54 52.2 168.73 52.8 168.96 53.4 169.27 54 169.65 54.6 170.12 55.2 170.7 55.8 171.3 56.4 171.9 57 172.5 57.6 173.1 58.2 173.7 58.8 174.3 59.4 174.9 60 175.5 60.6 176.1 61.2 176.7 61.8 177.3 62.4 177.9 63 178.5 63.6 179.1 64.2 179.7 64.8 180.3 65.4 180.89 66 181.45 66.6 182.01 67.2 182.55 67.8 183.08 68.4 183.61 69 184.13 69.6 184.66 70.2 185.19 70.8 185.72 71.4 186.23 72 186.73 72.6 187.19 73.2 187.61 73.8 187.98 74.4 188.3 75 188.52 75.6 188.63 76.2 188.67" fill="none" stroke="#d9573f" stroke-width="1.55" stroke-linecap="round" stroke-linejoin="round"/>
<path d="M76.2 188.67 76.8 188.65 77.4 188.62 78 188.58 78.6 188.49 79.2 188.36 79.8 188.22 80.4 188.09 81 188 81.6 187.97" fill="none" stroke="#2aa893" stroke-width="1.55" stroke-linecap="round" stroke-linejoin="round"/>
<path d="M81.6 187.97 82.2 188.03 82.8 188.15 83.4 188.31 84 188.51 84.6 188.73 85.2 188.97 85.8 189.21 86.4 189.44 87 189.88 87.6 190.38 88.2 190.6" fill="none" stroke="#d9573f" stroke-width="1.55" stroke-linecap="round" stroke-linejoin="round"/>
<path d="M88.2 190.6 88.8 190.31 89.4 189.93 90 189.56 90.6 189.18 91.2 188.8 91.8 188.43 92.4 188.05 93 187.67 93.6 187.3 94.2 186.92 94.8 186.54 95.4 186.17 96 185.79 96.6 185.41 97.2 185.04 97.8 184.66 98.4 184.29 99 183.93 99.6 183.56 100.2 183.2 100.8 182.84 101.4 182.47 102 182.11 102.6 181.74 103.2 181.35 103.8 180.92 104.4 180.48 105 180.02 105.6 179.56 106.2 179.09 106.8 178.62 107.4 178.17 108 177.73 108.6 177.28 109.2 176.86 109.8 176.53 110.4 176.37" fill="none" stroke="#2aa893" stroke-width="1.55" stroke-linecap="round" stroke-linejoin="round"/>
<path d="M110.4 176.37 111 176.45 111.6 176.85 112.2 177.66 112.8 178.75 113.4 179.94 114 181.08 114.6 182 115.2 182.76 115.8 183.53 116.4 184.3 117 185.07 117.6 185.83 118.2 186.58 118.8 187.31 119.4 188.02 120 188.71 120.6 189.4 121.2 190.08 121.8 190.76 122.4 191.44 123 192.12 123.6 192.8 124.2 193.48 124.8 194.15 125.4 194.82 126 195.5 126.6 196.16 127.2 196.83 127.8 197.5 128.4 198.16 129 198.83 129.6 199.49 130.2 200.16 130.8 200.82 131.4 201.46 132 202.09 132.6 202.69 133.2 203.29 133.8 203.87 134.4 204.44 135 205.01 135.6 205.56 136.2 206.01 136.8 206.27 137.4 206.28" fill="none" stroke="#d9573f" stroke-width="1.55" stroke-linecap="round" stroke-linejoin="round"/>
<path d="M137.4 206.28 138 206.19 138.6 206.06 139.2 205.89 139.8 205.71 140.4 205.5 141 205.28 141.6 205.04 142.2 204.8 142.8 204.55 143.4 204.3 144 204.05 144.6 203.82 145.2 203.6 145.8 203.4 146.4 203.21 147 203.04 147.6 202.87 148.2 202.71 148.8 202.56 149.4 202.4 150 202.25 150.6 202.12 151.2 202.02 151.8 201.95 152.4 201.91 153 201.9" fill="none" stroke="#2aa893" stroke-width="1.55" stroke-linecap="round" stroke-linejoin="round"/>
<path d="M153 201.9 153.6 201.97 154.2 202.23 154.8 202.68 155.4 203.34 156 204.21 156.6 205.15 157.2 206.13 157.8 207.12 158.4 208.09 159 209.05 159.6 209.97 160.2 210.88 160.8 211.78 161.4 212.68 162 213.57 162.6 214.46 163.2 215.35 163.8 216.29 164.4 217.19 165 217.9 165.6 218.25" fill="none" stroke="#d9573f" stroke-width="1.55" stroke-linecap="round" stroke-linejoin="round"/>
<path d="M165.6 218.25 166.2 218.1 166.8 217.74 167.4 217.29 168 216.78 168.6 216.24 169.2 215.71 169.8 215.19 170.4 214.65 171 214.12 171.6 213.59 172.2 213.07 172.8 212.57 173.4 212.1 174 211.68 174.6 211.31 175.2 211 175.8 210.77 176.4 210.75" fill="none" stroke="#2aa893" stroke-width="1.55" stroke-linecap="round" stroke-linejoin="round"/>
<path d="M176.4 210.75 177 210.91 177.6 211.11 178.2 211.21" fill="none" stroke="#d9573f" stroke-width="1.55" stroke-linecap="round" stroke-linejoin="round"/>
<path d="M178.2 211.21 178.8 211.13 179.4 210.96 180 210.76 180.6 210.56 181.2 210.39 181.8 210.29 182.4 210.25" fill="none" stroke="#2aa893" stroke-width="1.55" stroke-linecap="round" stroke-linejoin="round"/>
<path d="M182.4 210.25 183 210.25 183.6 210.32 184.2 210.47 184.8 210.7 185.4 211.04 186 211.5 186.6 212.04 187.2 212.59 187.8 213.12 188.4 213.57 189 214.01 189.6 214.37 190.2 214.51" fill="none" stroke="#d9573f" stroke-width="1.55" stroke-linecap="round" stroke-linejoin="round"/>
<path d="M190.2 214.51 190.8 214.35 191.4 214.03 192 213.6 192.6 213.15 193.2 212.75 193.8 212.46 194.4 212.23 195 212 195.6 211.78 196.2 211.55 196.8 211.34 197.4 211.12 198 210.91 198.6 210.69 199.2 210.44 199.8 210.2 200.4 210 201 209.89" fill="none" stroke="#2aa893" stroke-width="1.55" stroke-linecap="round" stroke-linejoin="round"/>
<path d="M201 209.89 201.6 209.9 202.2 210.07 202.8 210.37 203.4 210.76 204 211.19 204.6 211.63 205.2 212.03 205.8 212.43 206.4 212.86 207 213.29 207.6 213.72 208.2 214.14 208.8 214.55 209.4 214.94 210 215.28 210.6 215.55 211.2 215.72 211.8 215.79" fill="none" stroke="#d9573f" stroke-width="1.55" stroke-linecap="round" stroke-linejoin="round"/>
<path d="M211.8 215.79 212.4 215.74 213 215.57 213.6 215.26 214.2 214.79 214.8 214.2 215.4 213.6 216 213 216.6 212.4 217.2 211.8 217.8 211.2 218.4 210.6 219 210 219.6 209.4 220.2 208.8 220.8 208.2 221.4 207.6 222 207 222.6 206.4 223.2 205.8 223.8 205.2 224.4 204.6 225 204 225.6 203.4 226.2 202.8 226.8 202.2 227.4 201.6 228 201 228.6 200.4 229.2 199.81 229.8 199.3 230.4 198.88 231 198.53 231.6 198.25 232.2 198 232.8 197.78 233.4 197.57 234 197.35 234.6 197.1 235.2 196.81 235.8 196.46 236.4 196.03 237 195.5 237.6 194.87 238.2 194 238.8 192.63 239.4 191.2 240 189.75 240.6 188.3 241.2 186.83 241.8 185.35 242.4 183.81 243 182.16 243.6 180.46 244.2 178.77 244.8 177.14 245.4 175.63 246 174.29 246.6 173.14 247.2 172.12 247.8 171.22 248.4 170.4 249 169.63 249.6 168.88 250.2 168.12 250.8 167.36 251.4 166.61 252 165.85 252.6 165.1 253.2 164.35 253.8 163.61 254.4 162.87 255 162.14 255.6 161.42 256.2 160.71 256.8 160.01 257.4 159.32 258 158.63 258.6 157.96 259.2 157.28 259.8 156.6 260.4 155.89 261 155.25 261.6 154.87" fill="none" stroke="#2aa893" stroke-width="1.55" stroke-linecap="round" stroke-linejoin="round"/>
<path d="M261.6 154.87 262.2 154.95 262.8 155.37 263.4 155.96 264 156.63 264.6 157.31 265.2 157.99 265.8 158.69 266.4 159.39 267 160.1 267.6 160.81 268.2 161.5 268.8 162.16 269.4 162.8 270 163.39 270.6 163.94 271.2 164.45 271.8 164.92 272.4 165.37 273 165.79 273.6 166.2 274.2 166.6 274.8 167 275.4 167.38 276 167.64 276.6 167.82 277.2 167.98 277.8 168.21 278.4 168.55 279 169.09 279.6 169.8 280.2 170.58 280.8 171.38 281.4 172.21 282 173.03 282.6 173.85 283.2 174.63 283.8 175.4 284.4 176.16 285 176.93 285.6 177.69 286.2 178.45 286.8 179.21 287.4 179.96 288 180.71 288.6 181.44 289.2 182.16 289.8 182.84 290.4 183.49 291 184.1 291.6 184.69 292.2 185.24 292.8 185.77 293.4 186.26 294 186.73 294.6 187.15 295.2 187.52 295.8 187.87 296.4 188.19 297 188.48 297.6 188.76 298.2 189.04 298.8 189.31 299.4 189.58 300 189.84 300.6 190.07 301.2 190.27 301.8 190.41 302.4 190.49 303 190.5" fill="none" stroke="#d9573f" stroke-width="1.55" stroke-linecap="round" stroke-linejoin="round"/>
<path d="M303 190.5 303.6 190.39 304.2 190.13 304.8 189.77 305.4 189.3 306 188.77 306.6 188.2 307.2 187.59 307.8 186.92 308.4 186.2 309 185.44 309.6 184.69 310.2 183.96 310.8 183.3 311.4 182.71 312 182.17 312.6 181.68 313.2 181.29 313.8 181.02 314.4 180.89 315 180.87" fill="none" stroke="#2aa893" stroke-width="1.55" stroke-linecap="round" stroke-linejoin="round"/>
<path d="M315 180.87 315.6 180.92 316.2 181.02 316.8 181.17 317.4 181.34 318 181.55 318.6 181.83 319.2 182.13 319.8 182.4 320.4 182.58 321 182.64" fill="none" stroke="#d9573f" stroke-width="1.55" stroke-linecap="round" stroke-linejoin="round"/>
<path d="M321 182.64 321.6 182.59 322.2 182.47 322.8 182.31 323.4 182.16 324 182.04 324.6 181.99" fill="none" stroke="#2aa893" stroke-width="1.55" stroke-linecap="round" stroke-linejoin="round"/>
<path d="M324.6 181.99 325.2 182.03 325.8 182.06 326.4 182.11 327 182.16 327.6 182.23 328.2 182.32 328.8 182.44 329.4 182.58 330 182.77 330.6 183 331.2 183.25 331.8 183.51 332.4 183.78 333 184.05 333.6 184.32 334.2 184.59 334.8 184.87 335.4 185.15 336 185.44 336.6 185.73 337.2 186.02 337.8 186.31 338.4 186.6 339 186.89 339.6 187.19 340.2 187.49 340.8 187.79 341.4 188.09 342 188.4 342.6 188.7 343.2 189.01 343.8 189.33 344.4 189.64 345 189.96 345.6 190.28 346.2 190.61 346.8 190.97 347.4 191.35 348 191.77 348.6 192.21 349.2 192.66 349.8 193.14 350.4 193.62 351 194.12 351.6 194.61 352.2 195.11 352.8 195.6 353.4 196.09 354 196.56 354.6 197.02 355.2 197.45 355.8 197.87 356.4 198.25 357 198.61 357.6 198.94 358.2 199.25 358.8 199.53 359.4 199.79 360 200.04 360.6 200.27 361.2 200.48 361.8 200.69 362.4 200.88 363 201.07 363.6 201.25 364.2 201.43 364.8 201.6 365.4 201.78 366 201.95" fill="none" stroke="#d9573f" stroke-width="1.55" stroke-linecap="round" stroke-linejoin="round"/>
<path d="M366 201.95 366.6 201.92 367.2 201.71 367.8 201.38 368.4 200.98 369 200.61 369.6 200.3 370.2 200.14" fill="none" stroke="#2aa893" stroke-width="1.55" stroke-linecap="round" stroke-linejoin="round"/>
<path d="M370.2 200.14 370.8 200.19 371.4 200.52 372 201.16 372.6 202.01 373.2 203.02 373.8 204.12 374.4 205.26 375 206.37 375.6 207.39 376.2 208.28 376.8 209.11 377.4 209.91 378 210.7 378.6 211.47 379.2 212.25 379.8 213.03 380.4 213.82 381 214.62 381.6 215.46 382.2 216.32 382.8 217.22 383.4 218.16 384 219.17 384.6 220.25 385.2 221.43 385.8 222.7 386.4 224.1 387 225.63 387.6 227.3 388.2 229.27 388.8 231.6 389.4 234.16 390 236.81 390.6 239.43 391.2 241.88 391.8 244.07 392.4 246.19 393 248.24 393.6 250.23 394.2 252.14 394.8 253.97 395.4 255.7 396 257.3 396.6 258.75 397.2 260.02 397.8 261.11 398.4 262.02 399 262.72 399.6 263.21 400.2 263.48 400.8 263.57 401.4 263.61" fill="none" stroke="#d9573f" stroke-width="1.55" stroke-linecap="round" stroke-linejoin="round"/>
<path d="M401.4 263.61 402 263.57 402.6 263.47 403.2 263.29 403.8 263.05 404.4 262.73 405 262.35 405.6 261.88 406.2 261.34 406.8 260.72 407.4 260.04 408 259.33 408.6 258.62 409.2 257.88 409.8 257.14 410.4 256.4 411 255.65 411.6 254.9 412.2 254.15 412.8 253.41 413.4 252.68 414 251.96 414.6 251.26 415.2 250.57 415.8 249.86 416.4 249.12 417 248.38 417.6 247.65 418.2 246.94 418.8 246.27 419.4 245.65 420 245.1 420.6 244.63 421.2 244.26 421.8 244 422.4 243.86 423 243.81" fill="none" stroke="#2aa893" stroke-width="1.55" stroke-linecap="round" stroke-linejoin="round"/>
<path d="M423 243.81 423.6 243.86 424.2 243.99 424.8 244.2 425.4 244.46 426 244.78 426.6 245.14 427.2 245.54 427.8 245.96 428.4 246.4 429 246.84 429.6 247.27 430.2 247.7 430.8 248.1 431.4 248.51 432 248.92 432.6 249.33 433.2 249.76 433.8 250.18 434.4 250.6 435 251.03 435.6 251.46 436.2 251.88 436.8 252.31 437.4 252.73 438 253.15 438.6 253.56 439.2 253.97 439.8 254.37 440.4 254.77 441 255.16 441.6 255.57 442.2 255.98 442.8 256.39 443.4 256.79 444 257.18 444.6 257.56 445.2 257.92 445.8 258.26 446.4 258.57 447 258.84 447.6 259.08 448.2 259.28 448.8 259.44 449.4 259.55 450 259.6" fill="none" stroke="#d9573f" stroke-width="1.55" stroke-linecap="round" stroke-linejoin="round"/>
<path d="M450 259.6 450.6 259.59 451.2 259.53 451.8 259.41 452.4 259.24 453 259.04 453.6 258.8 454.2 258.53 454.8 258.23 455.4 257.93 456 257.61 456.6 257.28 457.2 256.96 457.8 256.65 458.4 256.34 459 256.02 459.6 255.69 460.2 255.35 460.8 255.01 461.4 254.66 462 254.32 462.6 253.97 463.2 253.63 463.8 253.29 464.4 252.97 465 252.65 465.6 252.35 466.2 252.06 466.8 251.77 467.4 251.5 468 251.25 468.6 251.02 469.2 250.81 469.8 250.62 470.4 250.48 471 250.37 471.6 250.3 472.2 250.27" fill="none" stroke="#2aa893" stroke-width="1.55" stroke-linecap="round" stroke-linejoin="round"/>
<path d="M472.2 250.27 472.8 250.3 473.4 250.38 474 250.51 474.6 250.69 475.2 250.9 475.8 251.15 476.4 251.41 477 251.7 477.6 251.99 478.2 252.3 478.8 252.6 479.4 252.89 480 253.17 480.6 253.43 481.2 253.66 481.8 253.88 482.4 254.08 483 254.26 483.6 254.44 484.2 254.6 484.8 254.74 485.4 254.87 486 254.97 486.6 255" fill="none" stroke="#d9573f" stroke-width="1.55" stroke-linecap="round" stroke-linejoin="round"/>
<path d="M486.6 255 487.2 254.79 487.8 254.39 488.4 253.87 489 253.26 489.6 252.65 490.2 252.08 490.8 251.61 491.4 251.29 492 251.2" fill="none" stroke="#2aa893" stroke-width="1.55" stroke-linecap="round" stroke-linejoin="round"/>
<path d="M492 251.2 492.6 251.25 493.2 251.32 493.8 251.42 494.4 251.55 495 251.71 495.6 251.9 496.2 252.14 496.8 252.41 497.4 252.72 498 253.08 498.6 253.48 499.2 253.93 499.8 254.38 500.4 254.83 501 255.29 501.6 255.74 502.2 256.2 502.8 256.65 503.4 257.11 504 257.56 504.6 258.02 505.2 258.47 505.8 258.92 506.4 259.37 507 259.82 507.6 260.27 508.2 260.72 508.8 261.17 509.4 261.61 510 262.05 510.6 262.5 511.2 262.94 511.8 263.39 512.4 263.83 513 264.28 513.6 264.73 514.2 265.17 514.8 265.64 515.4 266.19 516 266.82 516.6 267.5 517.2 268.23 517.8 268.97 518.4 269.7 519 270.42 519.6 271.09 520.2 271.69 520.8 272.21 521.4 272.65 522 273.01 522.6 273.31 523.2 273.55 523.8 273.74 524.4 273.9 525 274.01" fill="none" stroke="#d9573f" stroke-width="1.55" stroke-linecap="round" stroke-linejoin="round"/>
<path d="M525 274.01 525.6 273.91 526.2 273.51 526.8 272.87 527.4 272.05 528 271.1 528.6 270.07 529.2 269.01 529.8 267.99 530.4 267.04 531 266.23 531.6 265.61 532.2 265.24 532.8 265.15" fill="none" stroke="#2aa893" stroke-width="1.55" stroke-linecap="round" stroke-linejoin="round"/>
<path d="M532.8 265.15 533.4 265.42 534 266.04 534.6 266.72 535.2 267.42 535.8 268.13 536.4 268.84 537 269.56 537.6 270.28 538.2 270.99 538.8 271.69 539.4 272.39 540 273.07 540.6 273.75 541.2 274.43 541.8 275.11 542.4 275.78 543 276.46 543.6 277.14 544.2 277.82 544.8 278.49 545.4 279.17 546 279.84 546.6 280.51 547.2 281.19 547.8 281.87 548.4 282.57 549 283.28 549.6 283.97 550.2 284.62 550.8 285.22 551.4 285.75 552 286.18 552.6 286.51 553.2 286.7 553.8 286.75" fill="none" stroke="#d9573f" stroke-width="1.55" stroke-linecap="round" stroke-linejoin="round"/>
<path d="M553.8 286.75 554.4 286.64 555 286.06 555.6 284.84 556.2 283.52 556.8 282.56 557.4 281.68 558 280.81 558.6 280 559.2 279.29 559.8 278.72 560.4 278.26 561 277.89 561.6 277.59 562.2 277.35 562.8 277.18 563.4 277.05 564 276.96 564.6 276.91 565.2 276.9" fill="none" stroke="#2aa893" stroke-width="1.55" stroke-linecap="round" stroke-linejoin="round"/>
<path d="M565.2 276.9 565.8 276.98 566.4 277.12 567 277.28 567.6 277.45 568.2 277.58 568.8 277.66" fill="none" stroke="#d9573f" stroke-width="1.55" stroke-linecap="round" stroke-linejoin="round"/>
<path d="M568.8 277.66 569.4 277.65 570 277.53 570.6 277.34 571.2 277.1 571.8 276.79 572.4 276.43 573 276 573.6 275.53 574.2 275.03 574.8 274.52 575.4 273.99 576 273.44 576.6 272.87 577.2 272.3 577.8 271.65 578.4 270.88 579 270.06 579.6 269.21 580.2 268.4 580.8 267.68 581.4 267.09 582 266.69 582.6 266.46 583.2 266.28 583.8 266.12 584.4 265.96 585 265.8 585.6 265.64 586.2 265.49 586.8 265.33 587.4 265.15 588 264.2 588.6 262.98 589.2 262.58" fill="none" stroke="#2aa893" stroke-width="1.55" stroke-linecap="round" stroke-linejoin="round"/>
<path d="M589.2 262.58 589.8 262.58 590.4 262.68 591 262.86 591.6 263.12 592.2 263.44 592.8 263.82 593.4 264.25 594 264.72 594.6 265.21 595.2 265.73 595.8 266.25 596.4 266.78 597 267.45 597.6 268.24 598.2 269.11 598.8 270.02 599.4 270.91 600 271.75 600.6 272.47 601.2 273.05 601.8 273.43 602.4 273.59 603 273.6" fill="none" stroke="#d9573f" stroke-width="1.55" stroke-linecap="round" stroke-linejoin="round"/>
<path d="M603 273.6 603.6 273.48 604.2 273.23 604.8 272.87 605.4 272.4 606 271.84 606.6 271.19 607.2 270.46 607.8 269.66 608.4 268.8 609 267.88 609.6 266.93 610.2 265.94 610.8 264.93 611.4 263.9 612 262.86 612.6 261.81 613.2 260.75 613.8 259.69 614.4 258.63 615 257.58 615.6 256.53 616.2 255.5 616.8 254.49 617.4 253.49 618 252.51 618.6 251.54 619.2 250.58 619.8 249.62 620.4 248.66 621 247.72 621.6 246.79 622.2 245.88 622.8 244.98 623.4 244.1 624 243.24 624.6 242.41 625.2 241.6 625.8 240.83 626.4 240.22 627 239.76 627.6 239.42 628.2 239.18 628.8 239.02 629.4 238.9 630 238.8 630.6 238.7 631.2 238.62 631.8 238.55 632.4 238.49 633 238.46 633.6 238.45" fill="none" stroke="#2aa893" stroke-width="1.55" stroke-linecap="round" stroke-linejoin="round"/>
<path d="M633.6 238.45 634.2 238.48 634.8 238.54 635.4 238.64 636 238.78 636.6 238.97 637.2 239.22 637.8 239.52 638.4 239.88 639 240.3 639.6 240.77 640.2 241.25 640.8 241.74 641.4 242.24 642 242.75 642.6 243.27 643.2 243.78 643.8 244.3 644.4 244.82 645 245.34 645.6 245.85 646.2 246.35 646.8 246.84 647.4 247.33 648 247.86 648.6 248.4 649.2 248.93 649.8 249.43 650.4 249.88 651 250.26 651.6 250.53 652.2 250.7 652.8 250.78 653.4 250.79" fill="none" stroke="#d9573f" stroke-width="1.55" stroke-linecap="round" stroke-linejoin="round"/>
<path d="M653.4 250.79 654 250.73 654.6 250.61 655.2 250.44 655.8 250.23 656.4 249.99 657 249.71 657.6 249.43 658.2 249.13 658.8 248.83 659.4 248.53 660 248.26 660.6 248 661.2 247.76 661.8 247.51 662.4 247.27 663 247.02 663.6 246.77 664.2 246.53 664.8 246.28 665.4 246.03 666 245.78 666.6 245.53 667.2 245.28 667.8 245.03 668.4 244.78 669 244.54 669.6 244.29 670.2 244.05 670.8 243.8 671.4 243.56 672 243.32 672.6 243.08 673.2 242.85 673.8 242.62 674.4 242.39 675 242.17 675.6 241.96 676.2 241.75 676.8 241.54 677.4 241.33 678 241.13 678.6 240.94 679.2 240.74 679.8 240.55 680.4 240.36 681 240.18 681.6 240 682.2 239.82 682.8 239.64 683.4 239.47 684 239.3 684.6 239.21" fill="none" stroke="#2aa893" stroke-width="1.55" stroke-linecap="round" stroke-linejoin="round"/>
<path d="M684.6 239.21 685.2 239.26 685.8 239.42 686.4 239.66 687 239.97 687.6 240.3 688.2 240.64 688.8 240.96 689.4 241.22 690 241.41 690.6 241.5" fill="none" stroke="#d9573f" stroke-width="1.55" stroke-linecap="round" stroke-linejoin="round"/>
<path d="M690.6 241.5 691.2 241.45 691.8 241.25 692.4 240.93 693 240.6 693.6 240.27 694.2 239.94 694.8 239.6 695.4 239.27 696 238.93 696.6 238.58 697.2 238.24 697.8 237.9 698.4 237.56 699 237.21 699.6 236.86 700.2 236.5 700.8 236.15 701.4 235.79 702 235.44 702.6 235.09 703.2 234.74 703.8 234.4 704.4 234.06 705 233.73 705.6 233.4 706.2 233.11 706.8 232.88 707.4 232.71 708 232.58 708.6 232.49 709.2 232.43 709.8 232.38 710.4 232.34 711 232.31 711.6 232.26 712.2 232.2 712.8 232.12 713.4 232 714 231.81 714.6 231.54 715.2 231.21 715.8 230.86 716.4 230.53 717 230.23 717.6 230 718.2 229.87" fill="none" stroke="#2aa893" stroke-width="1.55" stroke-linecap="round" stroke-linejoin="round"/>
<path d="M718.2 229.87 718.8 229.87 719.4 230.04 720 230.28 720.6 230.55 721.2 230.84 721.8 231.14 722.4 231.46 723 231.79 723.6 232.13 724.2 232.47 724.8 232.81 725.4 233.15 726 233.48 726.6 233.8 727.2 234.1 727.8 234.4 728.4 234.7 729 235.01 729.6 235.3 730.2 235.6 730.8 235.9 731.4 236.19 732 236.49 732.6 236.78 733.2 237.06 733.8 237.35 734.4 237.62 735 237.9 735.6 238.05" fill="none" stroke="#d9573f" stroke-width="1.55" stroke-linecap="round" stroke-linejoin="round"/>
<path d="M735.6 238.05 736.2 237.98 736.8 237.74 737.4 237.38 738 236.93 738.6 236.46 739.2 236 739.8 235.6 740.4 235.3 741 235.17" fill="none" stroke="#2aa893" stroke-width="1.55" stroke-linecap="round" stroke-linejoin="round"/>
<path d="M741 235.17 741.6 235.23 742.2 235.48 742.8 235.74 743.4 236.02 744 236.29 744.6 236.57 745.2 236.85 745.8 237.13 746.4 237.4 747 237.68 747.6 237.95 748.2 238.22 748.8 238.49 749.4 238.75 750 239.02 750.6 239.28 751.2 239.54 751.8 239.81 752.4 240.07 753 240.33 753.6 240.59 754.2 240.85 754.8 241.11 755.4 241.37 756 241.63 756.6 241.88 757.2 242.07 757.8 242.18 758.4 242.24 759 242.27 759.6 242.28 760.2 242.29 760.8 242.32 761.4 242.39 762 242.51 762.6 242.71 763.2 243 763.8 243.4 764.4 243.92 765 244.51 765.6 245.14 766.2 245.8 766.8 246.45 767.4 247.06 768 247.6 768.6 248.11 769.2 248.63 769.8 249.15 770.4 249.67 771 250.17 771.6 250.65 772.2 251.1 772.8 251.51 773.4 251.87 774 252.16 774.6 252.39 775.2 252.54 775.8 252.62 776.4 252.63" fill="none" stroke="#d9573f" stroke-width="1.55" stroke-linecap="round" stroke-linejoin="round"/>
<path d="M776.4 252.63 777 252.59 777.6 252.52 778.2 252.42 778.8 252.31 779.4 252.19 780 252.09 780.6 252.02 781.2 251.98" fill="none" stroke="#2aa893" stroke-width="1.55" stroke-linecap="round" stroke-linejoin="round"/>
<path d="M781.2 251.98 781.8 252 782.4 252.05 783 252.1 783.6 252.15 784.2 252.2 784.8 252.26 785.4 252.31 786 252.37 786.6 252.43 787.2 252.49 787.8 252.55 788.4 252.61 789 252.66 789.6 252.72 790.2 252.78 790.8 252.83 791.4 252.88 792 252.93 792.6 252.96 793.2 252.97 793.8 252.97" fill="none" stroke="#d9573f" stroke-width="1.55" stroke-linecap="round" stroke-linejoin="round"/>
<path d="M793.8 252.97 794.4 252.96 795 252.95 795.6 252.93 796.2 252.91 796.8 252.85 797.4 252.62 798 252.15 798.6 251.37 799.2 250.22 799.8 248.66 800.4 246.6 801 244.08 801.6 241.2 802.2 238.01 802.8 234.54 803.4 230.85 804 226.98 804.6 223 805.2 219 805.8 214.98 806.4 210.97 807 206.94 807.6 202.91 808.2 198.85 808.8 194.78 809.4 190.68 810 185.35 810.6 178.56 811.2 173.66 811.8 169.91 812.4 166.56 813 163.59 813.6 161 814.2 158.79 814.8 156.94 815.4 155.36 816 153.81 816.6 152.27 817.2 150.74 817.8 149.26 818.4 147.82 819 146.44 819.6 145.12 820.2 143.81 820.8 142.49 821.4 141.18 822 139.87 822.6 138.55 823.2 137.24 823.8 135.92 824.4 134.59 825 133.25 825.6 131.9 826.2 130.55 826.8 129.2 827.4 127.85 828 126.52 828.6 125.2 829.2 123.98 829.8 122.93 830.4 122.03 831 121.27 831.6 120.62 832.2 120.08 832.8 119.62 833.4 119.24 834 118.89 834.6 118.55 835.2 118.23 835.8 117.92 836.4 117.62 837 117.34 837.6 117.06 838.2 116.79 838.8 116.53 839.4 116.27 840 116.02 840.6 115.78 841.2 115.56 841.8 115.34 842.4 115.14 843 114.96 843.6 114.79 844.2 114.64 844.8 114.54" fill="none" stroke="#2aa893" stroke-width="1.55" stroke-linecap="round" stroke-linejoin="round"/>
<path d="M844.8 114.54 845.4 114.57 846 114.71 846.6 114.98 847.2 115.35 847.8 115.84 848.4 116.42 849 117.1 849.6 117.86 850.2 118.71 850.8 119.61 851.4 120.57 852 121.6 852.6 122.68 853.2 123.83 853.8 125.03 854.4 126.3 855 127.64 855.6 129.05 856.2 130.5 856.8 131.96 857.4 133.39 858 134.78 858.6 136.09 859.2 137.29 859.8 138.44 860.4 139.58 861 140.7 861.6 141.81 862.2 142.93 862.8 144.06 863.4 145.22 864 146.4 864.6 nan" fill="none" stroke="#d9573f" stroke-width="1.55" stroke-linecap="round" stroke-linejoin="round"/>
<svg width="1024" height="482" viewBox="0 0 1024 482" style="position:absolute;left:0;top:0" font-family="'Liberation Sans', sans-serif">
<path d="M109.9 145H115.8Q117.6 145 117.6 146.8V154.8Q117.6 156.6 115.8 156.6H115.45L112.85 160L110.25 156.6H109.9Q108.1 156.6 108.1 154.8V146.8Q108.1 145 109.9 145z" fill="#f2525c"/>
<path d="M112.55 181.8H114.85V187.6H117.1L113.7 192L110.3 187.6H112.55z" fill="#f23645"/>
<path d="M114.1 199.55L118.5 196.35V202.75z" fill="#f23645"/>
<path d="M113.5 210.3L108.7 206.75V213.85z" fill="#e31cf3"/>
<path d="M113.6 220.8L117 225H114.9V231.1H112.3V225H110.2z" fill="#e31cf3"/>
<rect x="109.6" y="218.9" width="8" height="1.7" fill="#e31cf3"/>
<text x="97.45" y="163.9" font-size="8.6" fill="#131722" textLength="33.9" lengthAdjust="spacingAndGlyphs" stroke="#fff" stroke-opacity="0.85" stroke-width="2.2" stroke-linejoin="round" paint-order="stroke">-1000000</text>
<text x="103.85" y="174.1" font-size="8.6" fill="#131722" textLength="20.2" lengthAdjust="spacingAndGlyphs" stroke="#fff" stroke-opacity="0.85" stroke-width="2.2" stroke-linejoin="round" paint-order="stroke">Short</text>
<text x="95.45" y="243.8" font-size="8.6" fill="#131722" textLength="36.8" lengthAdjust="spacingAndGlyphs" stroke="#fff" stroke-opacity="0.85" stroke-width="2.2" stroke-linejoin="round" paint-order="stroke">exit short</text>
<text x="96.15" y="253.5" font-size="8.6" fill="#131722" textLength="36.1" lengthAdjust="spacingAndGlyphs" stroke="#fff" stroke-opacity="0.85" stroke-width="2.2" stroke-linejoin="round" paint-order="stroke">+1000000</text>
<path d="M314.5 151.2H320.2Q322 151.2 322 153V158.2Q322 160 320.2 160H319.95L317.35 163.4L314.75 160H314.5Q312.7 160 312.7 158.2V153Q312.7 151.2 314.5 151.2z" fill="#f2525c"/>
<path d="M317.55 168.8H319.85V174.6H322.1L318.7 179L315.3 174.6H317.55z" fill="#f23645"/>
<path d="M318.7 188.35L323.3 185.35V191.35z" fill="#f23645"/>
<path d="M334.6 198.9L329.7 195.55V202.25z" fill="#e31cf3"/>
<path d="M335 212.1L338.4 216.3H336.3V222.8H333.7V216.3H331.6z" fill="#e31cf3"/>
<rect x="331" y="210.2" width="8" height="1.7" fill="#e31cf3"/>
<text x="301.65" y="150.7" font-size="8.6" fill="#131722" textLength="34.9" lengthAdjust="spacingAndGlyphs" stroke="#fff" stroke-opacity="0.85" stroke-width="2.2" stroke-linejoin="round" paint-order="stroke">-1000000</text>
<text x="308.45" y="161" font-size="8.6" fill="#131722" textLength="20.4" lengthAdjust="spacingAndGlyphs" stroke="#fff" stroke-opacity="0.85" stroke-width="2.2" stroke-linejoin="round" paint-order="stroke">Short</text>
<text x="316.45" y="235.2" font-size="8.6" fill="#131722" textLength="37" lengthAdjust="spacingAndGlyphs" stroke="#fff" stroke-opacity="0.85" stroke-width="2.2" stroke-linejoin="round" paint-order="stroke">exit short</text>
<text x="317.25" y="244.6" font-size="8.6" fill="#131722" textLength="36.1" lengthAdjust="spacingAndGlyphs" stroke="#fff" stroke-opacity="0.85" stroke-width="2.2" stroke-linejoin="round" paint-order="stroke">+1000000</text>
<path d="M532.8 243H539.2Q541 243 541 244.8V249.2Q541 251 539.2 251H538.6L536 254.3L533.4 251H532.8Q531 251 531 249.2V244.8Q531 243 532.8 243z" fill="#f2525c"/>
<path d="M536.55 261H538.85V266.4H541.1L537.7 270.8L534.3 266.4H536.55z" fill="#f23645"/>
<path d="M538.3 278.4L542.6 275.35V281.45z" fill="#f23645"/>
<path d="M538.3 289.45L533.3 285.75V293.15z" fill="#e31cf3"/>
<path d="M538.3 303.7L541.7 307.9H539.6V313.9H537V307.9H534.9z" fill="#e31cf3"/>
<rect x="534.3" y="301.8" width="8" height="1.7" fill="#e31cf3"/>
<text x="520.45" y="242.4" font-size="8.6" fill="#131722" textLength="34.7" lengthAdjust="spacingAndGlyphs" stroke="#fff" stroke-opacity="0.85" stroke-width="2.2" stroke-linejoin="round" paint-order="stroke">-1000000</text>
<text x="527.05" y="253" font-size="8.6" fill="#131722" textLength="20.6" lengthAdjust="spacingAndGlyphs" stroke="#fff" stroke-opacity="0.85" stroke-width="2.2" stroke-linejoin="round" paint-order="stroke">Short</text>
<text x="520.15" y="326.3" font-size="8.6" fill="#131722" textLength="37.2" lengthAdjust="spacingAndGlyphs" stroke="#fff" stroke-opacity="0.85" stroke-width="2.2" stroke-linejoin="round" paint-order="stroke">exit short</text>
<text x="520.75" y="335.8" font-size="8.6" fill="#131722" textLength="36.6" lengthAdjust="spacingAndGlyphs" stroke="#fff" stroke-opacity="0.85" stroke-width="2.2" stroke-linejoin="round" paint-order="stroke">+1000000</text>
<path d="M799.05 181.6H801.35V187.4H803.6L800.2 191.8L796.8 187.4H799.05z" fill="#e31cf3"/>
<rect x="796.2" y="192" width="8" height="1.7" fill="#e31cf3"/>
<path d="M800.5 232.5L805.3 228.95V236.05z" fill="#e31cf3"/>
<path d="M799.3 242.65L795 239.55V245.75z" fill="#2458f0"/>
<path d="M798.5 264.2L803 267.4V275.8Q803 277.6 801.2 277.6H795.8Q794 277.6 794 275.8V267.4z" fill="#6df06f"/>
<path d="M800.4 271.7L803.2 275.3H801.45V282.3H799.35V275.3H797.6z" fill="#2458f0"/>
<text x="783.45" y="163.4" font-size="8.6" fill="#131722" textLength="34.7" lengthAdjust="spacingAndGlyphs" stroke="#fff" stroke-opacity="0.85" stroke-width="2.2" stroke-linejoin="round" paint-order="stroke">-1000000</text>
<text x="783.45" y="173.4" font-size="8.6" fill="#131722" textLength="33.8" lengthAdjust="spacingAndGlyphs" stroke="#fff" stroke-opacity="0.85" stroke-width="2.2" stroke-linejoin="round" paint-order="stroke">exit long</text>
<text x="791.65" y="294.3" font-size="8.6" fill="#131722" textLength="17.7" lengthAdjust="spacingAndGlyphs" stroke="#fff" stroke-opacity="0.85" stroke-width="2.2" stroke-linejoin="round" paint-order="stroke">Long</text>
<text x="782.85" y="305.2" font-size="8.6" fill="#131722" textLength="35.9" lengthAdjust="spacingAndGlyphs" stroke="#fff" stroke-opacity="0.85" stroke-width="2.2" stroke-linejoin="round" paint-order="stroke">+1000000</text>
<rect x="905.2" y="28.2" width="65.5" height="16.8" fill="#808080"/>
<rect x="905.2" y="45" width="65.5" height="34.3" fill="#b0b0b0"/>
<text x="908.85" y="39.9" font-size="9.7" fill="#fff" textLength="58.1" lengthAdjust="spacingAndGlyphs" stroke="#fff" stroke-width="0.25">ATR: 0.00032</text>
<text x="923.65" y="56.8" font-size="9.7" fill="#fff" textLength="28.5" lengthAdjust="spacingAndGlyphs" stroke="#fff" stroke-width="0.25">TP: 32</text>
<text x="924.15" y="73.9" font-size="9.7" fill="#fff" textLength="27.5" lengthAdjust="spacingAndGlyphs" stroke="#fff" stroke-width="0.25">SL: 64</text>
<text x="983.65" y="51" font-size="8.4" fill="#131722" textLength="30" lengthAdjust="spacingAndGlyphs">1.10800</text>
<text x="983.65" y="80.85" font-size="8.4" fill="#131722" textLength="30" lengthAdjust="spacingAndGlyphs">1.10600</text>
<text x="983.65" y="110.71" font-size="8.4" fill="#131722" textLength="30" lengthAdjust="spacingAndGlyphs">1.10400</text>
<text x="983.65" y="140.56" font-size="8.4" fill="#131722" textLength="30" lengthAdjust="spacingAndGlyphs">1.10200</text>
<text x="983.65" y="170.42" font-size="8.4" fill="#131722" textLength="30" lengthAdjust="spacingAndGlyphs">1.10000</text>
<text x="983.65" y="200.27" font-size="8.4" fill="#131722" textLength="30" lengthAdjust="spacingAndGlyphs">1.09800</text>
<text x="983.65" y="230.12" font-size="8.4" fill="#131722" textLength="30" lengthAdjust="spacingAndGlyphs">1.09600</text>
<text x="983.65" y="259.98" font-size="8.4" fill="#131722" textLength="30" lengthAdjust="spacingAndGlyphs">1.09400</text>
<text x="983.65" y="289.83" font-size="8.4" fill="#131722" textLength="30" lengthAdjust="spacingAndGlyphs">1.09200</text>
<text x="983.65" y="319.69" font-size="8.4" fill="#131722" textLength="30" lengthAdjust="spacingAndGlyphs">1.09000</text>
<text x="983.65" y="349.54" font-size="8.4" fill="#131722" textLength="30" lengthAdjust="spacingAndGlyphs">1.08800</text>
<text x="983.65" y="379.39" font-size="8.4" fill="#131722" textLength="30" lengthAdjust="spacingAndGlyphs">1.08600</text>
<text x="983.65" y="409.25" font-size="8.4" fill="#131722" textLength="30" lengthAdjust="spacingAndGlyphs">1.08400</text>
<text x="983.65" y="439.1" font-size="8.4" fill="#131722" textLength="30" lengthAdjust="spacingAndGlyphs">1.08200</text>
<text x="22.75" y="473.4" font-size="8.4" fill="#131722" textLength="20.7" lengthAdjust="spacingAndGlyphs">12:04</text>
<text x="132.2" y="473.4" font-size="8.4" fill="#131722" textLength="15.2" lengthAdjust="spacingAndGlyphs" font-weight="bold">Aug</text>
<text x="236.05" y="473.4" font-size="8.4" fill="#131722" textLength="20.7" lengthAdjust="spacingAndGlyphs">12:04</text>
<text x="350.5" y="473.4" font-size="8.4" fill="#131722" textLength="4.6" lengthAdjust="spacingAndGlyphs">2</text>
<text x="449.35" y="473.4" font-size="8.4" fill="#131722" textLength="20.7" lengthAdjust="spacingAndGlyphs">12:04</text>
<text x="563.9" y="473.4" font-size="8.4" fill="#131722" textLength="4.6" lengthAdjust="spacingAndGlyphs">3</text>
<text x="662.65" y="473.4" font-size="8.4" fill="#131722" textLength="20.7" lengthAdjust="spacingAndGlyphs">12:04</text>
<text x="776.4" y="473.4" font-size="8.4" fill="#131722" textLength="4.8" lengthAdjust="spacingAndGlyphs">4</text>
<text x="847.25" y="473.4" font-size="8.4" fill="#131722" textLength="21.3" lengthAdjust="spacingAndGlyphs">09:00</text>
<rect x="3" y="9.5" width="420" height="14" fill="#fff" fill-opacity="0.6"/>
<g><clipPath id="us"><circle cx="18.4" cy="13.3" r="4.6"/></clipPath><g clip-path="url(#us)"><rect x="13" y="8" width="11" height="11" fill="#fff"/><rect x="18.6" y="9.3" width="5" height="1.2" fill="#f23645"/><rect x="18.6" y="12.4" width="5" height="1.3" fill="#f23645"/><rect x="18.6" y="15.5" width="5" height="1.2" fill="#f23645"/><rect x="13" y="8" width="6.2" height="7" fill="#6b9af0"/></g><circle cx="13.5" cy="17.3" r="5.3" fill="#fff"/><circle cx="13.5" cy="17.3" r="4.7" fill="#2856d8"/><g fill="#b9b04a"><circle cx="16" cy="18.33" r="0.55"/><circle cx="14.54" cy="19.79" r="0.55"/><circle cx="12.47" cy="19.8" r="0.55"/><circle cx="11.01" cy="18.34" r="0.55"/><circle cx="11" cy="16.27" r="0.55"/><circle cx="12.46" cy="14.81" r="0.55"/><circle cx="14.53" cy="14.8" r="0.55"/><circle cx="15.99" cy="16.26" r="0.55"/></g></g>
<text x="25.15" y="19.5" font-size="10.2" fill="#131722" textLength="22.5" lengthAdjust="spacingAndGlyphs">Euro</text>
<text x="52.3" y="19.5" font-size="10.2" fill="#131722" textLength="3.8" lengthAdjust="spacingAndGlyphs">/</text>
<text x="61.25" y="19.5" font-size="10.2" fill="#131722" textLength="20.1" lengthAdjust="spacingAndGlyphs">U.S.</text>
<text x="85.65" y="19.5" font-size="10.2" fill="#131722" textLength="29.3" lengthAdjust="spacingAndGlyphs">Dollar</text>
<text x="118.4" y="19.5" font-size="10.2" fill="#131722" textLength="2.8" lengthAdjust="spacingAndGlyphs">·</text>
<text x="124.15" y="19.5" font-size="10.2" fill="#131722" textLength="5.5" lengthAdjust="spacingAndGlyphs">8</text>
<text x="133.1" y="19.5" font-size="10.2" fill="#131722" textLength="2.8" lengthAdjust="spacingAndGlyphs">·</text>
<text x="138.75" y="19.5" font-size="10.2" fill="#131722" textLength="27" lengthAdjust="spacingAndGlyphs">FXCM</text>
<text x="171.55" y="19.6" font-size="9" fill="#131722" textLength="6.3" lengthAdjust="spacingAndGlyphs">O</text>
<text x="178.65" y="19.6" font-size="9" fill="#f23645" textLength="32.4" lengthAdjust="spacingAndGlyphs">1.10064</text>
<text x="215.15" y="19.6" font-size="9" fill="#131722" textLength="6" lengthAdjust="spacingAndGlyphs">H</text>
<text x="221.75" y="19.6" font-size="9" fill="#f23645" textLength="32.8" lengthAdjust="spacingAndGlyphs">1.10070</text>
<text x="258.65" y="19.6" font-size="9" fill="#131722" textLength="4.2" lengthAdjust="spacingAndGlyphs">L</text>
<text x="264.25" y="19.6" font-size="9" fill="#f23645" textLength="32" lengthAdjust="spacingAndGlyphs">1.10050</text>
<text x="300.45" y="19.6" font-size="9" fill="#131722" textLength="5.6" lengthAdjust="spacingAndGlyphs">C</text>
<text x="307.45" y="19.6" font-size="9" fill="#f23645" textLength="32.6" lengthAdjust="spacingAndGlyphs">1.10058</text>
<text x="344.25" y="19.6" font-size="9" fill="#f23645" textLength="37.1" lengthAdjust="spacingAndGlyphs">−0.00006</text>
<text x="384.45" y="19.6" font-size="9" fill="#f23645" textLength="34.6" lengthAdjust="spacingAndGlyphs">(−0.01%)</text>
<rect x="9.8" y="25.8" width="21.2" height="14.2" rx="2.5" fill="#fff" stroke="#e0e3eb" stroke-width="1"/>
<path d="M14 31.7L16.9 34.3L19.8 31.7" fill="none" stroke="#2a2e39" stroke-width="1.15"/>
<text x="23.55" y="36.1" font-size="8.6" fill="#131722" textLength="5" lengthAdjust="spacingAndGlyphs">3</text>
<rect x="980.8" y="7.7" width="36.3" height="17.5" rx="3" fill="#fff" stroke="#e0e3eb" stroke-width="1"/>
<text x="983.55" y="19" font-size="8.8" fill="#131722" textLength="14.8" lengthAdjust="spacingAndGlyphs">USD</text>
</svg>
<div class="frame"></div>
</body></html>
